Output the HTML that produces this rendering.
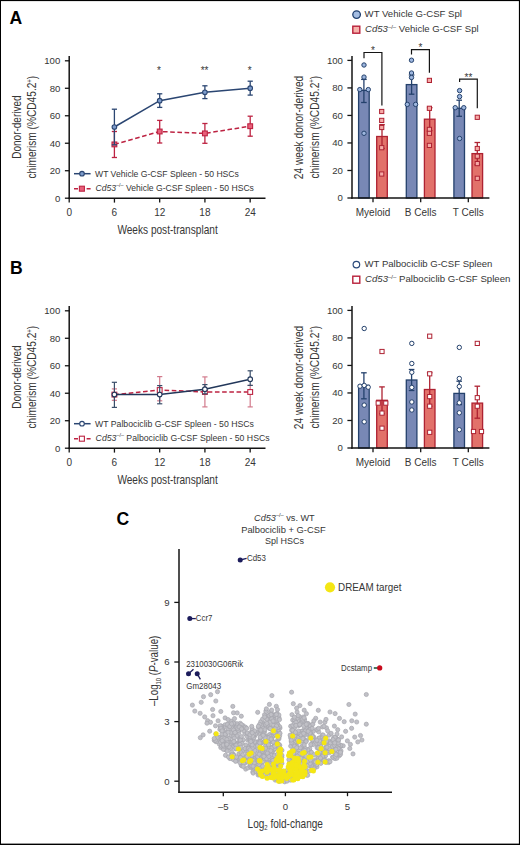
<!DOCTYPE html>
<html><head><meta charset="utf-8"><style>
html,body{margin:0;padding:0;background:#fff;width:520px;height:845px;overflow:hidden;}
svg{display:block;}
text{font-family:"Liberation Sans", sans-serif;}
</style></head><body>
<svg width="520" height="845" viewBox="0 0 520 845">
<rect x="0" y="0" width="520" height="845" fill="#fff"/>
<text x="9.6" y="24.3" font-size="17.6" fill="#000" font-weight="bold">A</text>
<text x="9.9" y="274.3" font-size="17.6" fill="#000" font-weight="bold">B</text>
<text x="116.6" y="524.7" font-size="17.6" fill="#000" font-weight="bold">C</text>
<line x1="69.2" y1="56.0" x2="69.2" y2="198.89999999999998" stroke="#141414" stroke-width="1.5"/>
<line x1="68.5" y1="198.2" x2="265.5" y2="198.2" stroke="#141414" stroke-width="1.5"/>
<line x1="64.9" y1="198.2" x2="69.2" y2="198.2" stroke="#141414" stroke-width="1.3"/>
<text x="60.3" y="201.6" font-size="9.6" fill="#363636" text-anchor="end">0</text>
<line x1="64.9" y1="170.71999999999997" x2="69.2" y2="170.71999999999997" stroke="#141414" stroke-width="1.3"/>
<text x="60.3" y="174.1" font-size="9.6" fill="#363636" text-anchor="end">20</text>
<line x1="64.9" y1="143.23999999999998" x2="69.2" y2="143.23999999999998" stroke="#141414" stroke-width="1.3"/>
<text x="60.3" y="146.6" font-size="9.6" fill="#363636" text-anchor="end">40</text>
<line x1="64.9" y1="115.75999999999998" x2="69.2" y2="115.75999999999998" stroke="#141414" stroke-width="1.3"/>
<text x="60.3" y="119.2" font-size="9.6" fill="#363636" text-anchor="end">60</text>
<line x1="64.9" y1="88.27999999999997" x2="69.2" y2="88.27999999999997" stroke="#141414" stroke-width="1.3"/>
<text x="60.3" y="91.7" font-size="9.6" fill="#363636" text-anchor="end">80</text>
<line x1="64.9" y1="60.79999999999998" x2="69.2" y2="60.79999999999998" stroke="#141414" stroke-width="1.3"/>
<text x="60.3" y="64.2" font-size="9.6" fill="#363636" text-anchor="end">100</text>
<line x1="69.2" y1="198.2" x2="69.2" y2="202.6" stroke="#141414" stroke-width="1.3"/>
<text x="69.2" y="215.6" font-size="10.0" fill="#363636" text-anchor="middle">0</text>
<line x1="114.44" y1="198.2" x2="114.44" y2="202.6" stroke="#141414" stroke-width="1.3"/>
<text x="114.4" y="215.6" font-size="10.0" fill="#363636" text-anchor="middle">6</text>
<line x1="159.68" y1="198.2" x2="159.68" y2="202.6" stroke="#141414" stroke-width="1.3"/>
<text x="159.7" y="215.6" font-size="10.0" fill="#363636" text-anchor="middle">12</text>
<line x1="204.92000000000002" y1="198.2" x2="204.92000000000002" y2="202.6" stroke="#141414" stroke-width="1.3"/>
<text x="204.9" y="215.6" font-size="10.0" fill="#363636" text-anchor="middle">18</text>
<line x1="250.16000000000003" y1="198.2" x2="250.16000000000003" y2="202.6" stroke="#141414" stroke-width="1.3"/>
<text x="250.2" y="215.6" font-size="10.0" fill="#363636" text-anchor="middle">24</text>
<text x="117.4" y="233.7" font-size="12.6" fill="#363636" textLength="100.3" lengthAdjust="spacingAndGlyphs">Weeks post-transplant</text>
<g transform="translate(21.0,127.1) rotate(-90)"><text x="0" y="0" font-size="12.6" fill="#363636" text-anchor="middle" textLength="63.4" lengthAdjust="spacingAndGlyphs">Donor-derived</text></g>
<g transform="translate(36.4,127.1) rotate(-90)"><text x="0" y="0" font-size="12.6" fill="#363636" text-anchor="middle" textLength="102.7" lengthAdjust="spacingAndGlyphs">chimerism (%CD45.2<tspan font-size="7.5" dy="-4.5">+</tspan><tspan dy="4.5">)</tspan></text></g>
<line x1="114.4" y1="131.5" x2="114.4" y2="157.5" stroke="#bd2342" stroke-width="1.3"/>
<line x1="111.8" y1="131.5" x2="117.0" y2="131.5" stroke="#bd2342" stroke-width="1.3"/>
<line x1="111.8" y1="157.5" x2="117.0" y2="157.5" stroke="#bd2342" stroke-width="1.3"/>
<line x1="159.7" y1="120.4" x2="159.7" y2="143.0" stroke="#bd2342" stroke-width="1.3"/>
<line x1="157.1" y1="120.4" x2="162.3" y2="120.4" stroke="#bd2342" stroke-width="1.3"/>
<line x1="157.1" y1="143.0" x2="162.3" y2="143.0" stroke="#bd2342" stroke-width="1.3"/>
<line x1="204.9" y1="123.5" x2="204.9" y2="143.3" stroke="#bd2342" stroke-width="1.3"/>
<line x1="202.3" y1="123.5" x2="207.5" y2="123.5" stroke="#bd2342" stroke-width="1.3"/>
<line x1="202.3" y1="143.3" x2="207.5" y2="143.3" stroke="#bd2342" stroke-width="1.3"/>
<line x1="250.2" y1="116.2" x2="250.2" y2="136.2" stroke="#bd2342" stroke-width="1.3"/>
<line x1="247.6" y1="116.2" x2="252.8" y2="116.2" stroke="#bd2342" stroke-width="1.3"/>
<line x1="247.6" y1="136.2" x2="252.8" y2="136.2" stroke="#bd2342" stroke-width="1.3"/>
<polyline points="114.4,144.4 159.7,131.5 204.9,133.4 250.2,126.2" fill="none" stroke="#bd2342" stroke-width="1.5" stroke-dasharray="4.6,2.6"/>
<rect x="112.0" y="142.0" width="4.8" height="4.8" fill="#e8607a" stroke="#bd2342" stroke-width="1.1"/>
<rect x="157.3" y="129.1" width="4.8" height="4.8" fill="#e8607a" stroke="#bd2342" stroke-width="1.1"/>
<rect x="202.5" y="131.0" width="4.8" height="4.8" fill="#e8607a" stroke="#bd2342" stroke-width="1.1"/>
<rect x="247.8" y="123.8" width="4.8" height="4.8" fill="#e8607a" stroke="#bd2342" stroke-width="1.1"/>
<line x1="114.4" y1="109.2" x2="114.4" y2="144.8" stroke="#2b4672" stroke-width="1.3"/>
<line x1="111.8" y1="109.2" x2="117.0" y2="109.2" stroke="#2b4672" stroke-width="1.3"/>
<line x1="111.8" y1="144.8" x2="117.0" y2="144.8" stroke="#2b4672" stroke-width="1.3"/>
<line x1="159.7" y1="93.8" x2="159.7" y2="107.4" stroke="#2b4672" stroke-width="1.3"/>
<line x1="157.1" y1="93.8" x2="162.3" y2="93.8" stroke="#2b4672" stroke-width="1.3"/>
<line x1="157.1" y1="107.4" x2="162.3" y2="107.4" stroke="#2b4672" stroke-width="1.3"/>
<line x1="204.9" y1="85.8" x2="204.9" y2="98.6" stroke="#2b4672" stroke-width="1.3"/>
<line x1="202.3" y1="85.8" x2="207.5" y2="85.8" stroke="#2b4672" stroke-width="1.3"/>
<line x1="202.3" y1="98.6" x2="207.5" y2="98.6" stroke="#2b4672" stroke-width="1.3"/>
<line x1="250.2" y1="81.2" x2="250.2" y2="95.1" stroke="#2b4672" stroke-width="1.3"/>
<line x1="247.6" y1="81.2" x2="252.8" y2="81.2" stroke="#2b4672" stroke-width="1.3"/>
<line x1="247.6" y1="95.1" x2="252.8" y2="95.1" stroke="#2b4672" stroke-width="1.3"/>
<polyline points="114.4,127.0 159.7,100.7 204.9,92.3 250.2,88.2" fill="none" stroke="#2b4672" stroke-width="1.5"/>
<circle cx="114.4" cy="127.0" r="2.3" fill="#7d9ccc" stroke="#2b4672" stroke-width="1.1"/>
<circle cx="159.7" cy="100.7" r="2.3" fill="#7d9ccc" stroke="#2b4672" stroke-width="1.1"/>
<circle cx="204.9" cy="92.3" r="2.3" fill="#7d9ccc" stroke="#2b4672" stroke-width="1.1"/>
<circle cx="250.2" cy="88.2" r="2.3" fill="#7d9ccc" stroke="#2b4672" stroke-width="1.1"/>
<line x1="74" y1="173.7" x2="90.6" y2="173.7" stroke="#2b4672" stroke-width="1.5"/>
<circle cx="82" cy="173.7" r="2.3" fill="#7d9ccc" stroke="#2b4672" stroke-width="1.1"/>
<line x1="74" y1="188.7" x2="90.6" y2="188.7" stroke="#bd2342" stroke-width="1.5" stroke-dasharray="4,2.3"/>
<rect x="79.4" y="186.2" width="5" height="5" fill="#e8607a" stroke="#bd2342" stroke-width="1.1"/>
<text x="95.0" y="176.6" font-size="9.5" fill="#363636" textLength="143.9" lengthAdjust="spacingAndGlyphs">WT Vehicle G-CSF Spleen - 50 HSCs</text>
<text x="95.6" y="190.6" font-size="9.5" fill="#363636" textLength="158.3" lengthAdjust="spacingAndGlyphs"><tspan font-style="italic">Cd53</tspan><tspan font-size="5.89" dy="-3.61">&#8211;/&#8211;</tspan><tspan dy="3.61"> Vehicle G-CSF Spleen - 50 HSCs</tspan></text>
<text x="158.9" y="74.4" font-size="10" fill="#363636" text-anchor="middle">*</text>
<text x="204.6" y="74.4" font-size="10" fill="#363636" text-anchor="middle">**</text>
<text x="249.6" y="74.4" font-size="10" fill="#363636" text-anchor="middle">*</text>
<line x1="69.2" y1="306.0" x2="69.2" y2="448.9" stroke="#141414" stroke-width="1.5"/>
<line x1="68.5" y1="448.2" x2="265.5" y2="448.2" stroke="#141414" stroke-width="1.5"/>
<line x1="64.9" y1="448.2" x2="69.2" y2="448.2" stroke="#141414" stroke-width="1.3"/>
<text x="60.3" y="451.6" font-size="9.6" fill="#363636" text-anchor="end">0</text>
<line x1="64.9" y1="420.71999999999997" x2="69.2" y2="420.71999999999997" stroke="#141414" stroke-width="1.3"/>
<text x="60.3" y="424.1" font-size="9.6" fill="#363636" text-anchor="end">20</text>
<line x1="64.9" y1="393.24" x2="69.2" y2="393.24" stroke="#141414" stroke-width="1.3"/>
<text x="60.3" y="396.6" font-size="9.6" fill="#363636" text-anchor="end">40</text>
<line x1="64.9" y1="365.76" x2="69.2" y2="365.76" stroke="#141414" stroke-width="1.3"/>
<text x="60.3" y="369.2" font-size="9.6" fill="#363636" text-anchor="end">60</text>
<line x1="64.9" y1="338.28" x2="69.2" y2="338.28" stroke="#141414" stroke-width="1.3"/>
<text x="60.3" y="341.7" font-size="9.6" fill="#363636" text-anchor="end">80</text>
<line x1="64.9" y1="310.79999999999995" x2="69.2" y2="310.79999999999995" stroke="#141414" stroke-width="1.3"/>
<text x="60.3" y="314.2" font-size="9.6" fill="#363636" text-anchor="end">100</text>
<line x1="69.2" y1="448.2" x2="69.2" y2="452.59999999999997" stroke="#141414" stroke-width="1.3"/>
<text x="69.2" y="465.6" font-size="10.0" fill="#363636" text-anchor="middle">0</text>
<line x1="114.44" y1="448.2" x2="114.44" y2="452.59999999999997" stroke="#141414" stroke-width="1.3"/>
<text x="114.4" y="465.6" font-size="10.0" fill="#363636" text-anchor="middle">6</text>
<line x1="159.68" y1="448.2" x2="159.68" y2="452.59999999999997" stroke="#141414" stroke-width="1.3"/>
<text x="159.7" y="465.6" font-size="10.0" fill="#363636" text-anchor="middle">12</text>
<line x1="204.92000000000002" y1="448.2" x2="204.92000000000002" y2="452.59999999999997" stroke="#141414" stroke-width="1.3"/>
<text x="204.9" y="465.6" font-size="10.0" fill="#363636" text-anchor="middle">18</text>
<line x1="250.16000000000003" y1="448.2" x2="250.16000000000003" y2="452.59999999999997" stroke="#141414" stroke-width="1.3"/>
<text x="250.2" y="465.6" font-size="10.0" fill="#363636" text-anchor="middle">24</text>
<text x="117.4" y="483.7" font-size="12.6" fill="#363636" textLength="100.3" lengthAdjust="spacingAndGlyphs">Weeks post-transplant</text>
<g transform="translate(21.0,377.1) rotate(-90)"><text x="0" y="0" font-size="12.6" fill="#363636" text-anchor="middle" textLength="63.4" lengthAdjust="spacingAndGlyphs">Donor-derived</text></g>
<g transform="translate(36.4,377.1) rotate(-90)"><text x="0" y="0" font-size="12.6" fill="#363636" text-anchor="middle" textLength="102.7" lengthAdjust="spacingAndGlyphs">chimerism (%CD45.2<tspan font-size="7.5" dy="-4.5">+</tspan><tspan dy="4.5">)</tspan></text></g>
<line x1="114.4" y1="388.9" x2="114.4" y2="400.3" stroke="#d27a8c" stroke-width="1.2"/>
<line x1="111.8" y1="388.9" x2="117.0" y2="388.9" stroke="#d27a8c" stroke-width="1.2"/>
<line x1="111.8" y1="400.3" x2="117.0" y2="400.3" stroke="#d27a8c" stroke-width="1.2"/>
<line x1="159.7" y1="376.6" x2="159.7" y2="400.8" stroke="#d27a8c" stroke-width="1.2"/>
<line x1="157.1" y1="376.6" x2="162.3" y2="376.6" stroke="#d27a8c" stroke-width="1.2"/>
<line x1="157.1" y1="400.8" x2="162.3" y2="400.8" stroke="#d27a8c" stroke-width="1.2"/>
<line x1="204.9" y1="376.9" x2="204.9" y2="406.9" stroke="#d27a8c" stroke-width="1.2"/>
<line x1="202.3" y1="376.9" x2="207.5" y2="376.9" stroke="#d27a8c" stroke-width="1.2"/>
<line x1="202.3" y1="406.9" x2="207.5" y2="406.9" stroke="#d27a8c" stroke-width="1.2"/>
<line x1="250.2" y1="385.4" x2="250.2" y2="406.9" stroke="#d27a8c" stroke-width="1.2"/>
<line x1="247.6" y1="385.4" x2="252.8" y2="385.4" stroke="#d27a8c" stroke-width="1.2"/>
<line x1="247.6" y1="406.9" x2="252.8" y2="406.9" stroke="#d27a8c" stroke-width="1.2"/>
<polyline points="114.4,394.6 159.7,390.0 204.9,392.0 250.2,392.0" fill="none" stroke="#bd2342" stroke-width="1.5" stroke-dasharray="4.6,2.6"/>
<rect x="112.0" y="392.2" width="4.8" height="4.8" fill="#ffffff" stroke="#bd2342" stroke-width="1.1"/>
<rect x="157.3" y="387.6" width="4.8" height="4.8" fill="#ffffff" stroke="#bd2342" stroke-width="1.1"/>
<rect x="202.5" y="389.6" width="4.8" height="4.8" fill="#ffffff" stroke="#bd2342" stroke-width="1.1"/>
<rect x="247.8" y="389.6" width="4.8" height="4.8" fill="#ffffff" stroke="#bd2342" stroke-width="1.1"/>
<line x1="114.4" y1="382.3" x2="114.4" y2="407.4" stroke="#3a4e6a" stroke-width="1.2"/>
<line x1="111.8" y1="382.3" x2="117.0" y2="382.3" stroke="#3a4e6a" stroke-width="1.2"/>
<line x1="111.8" y1="407.4" x2="117.0" y2="407.4" stroke="#3a4e6a" stroke-width="1.2"/>
<line x1="159.7" y1="385.6" x2="159.7" y2="403.8" stroke="#3a4e6a" stroke-width="1.2"/>
<line x1="157.1" y1="385.6" x2="162.3" y2="385.6" stroke="#3a4e6a" stroke-width="1.2"/>
<line x1="157.1" y1="403.8" x2="162.3" y2="403.8" stroke="#3a4e6a" stroke-width="1.2"/>
<line x1="204.9" y1="384.6" x2="204.9" y2="393.8" stroke="#3a4e6a" stroke-width="1.2"/>
<line x1="202.3" y1="384.6" x2="207.5" y2="384.6" stroke="#3a4e6a" stroke-width="1.2"/>
<line x1="202.3" y1="393.8" x2="207.5" y2="393.8" stroke="#3a4e6a" stroke-width="1.2"/>
<line x1="250.2" y1="370.8" x2="250.2" y2="385.4" stroke="#3a4e6a" stroke-width="1.2"/>
<line x1="247.6" y1="370.8" x2="252.8" y2="370.8" stroke="#3a4e6a" stroke-width="1.2"/>
<line x1="247.6" y1="385.4" x2="252.8" y2="385.4" stroke="#3a4e6a" stroke-width="1.2"/>
<polyline points="114.4,394.6 159.7,394.6 204.9,389.2 250.2,379.2" fill="none" stroke="#22375a" stroke-width="1.5"/>
<circle cx="114.4" cy="394.6" r="2.3" fill="#ffffff" stroke="#22375a" stroke-width="1.1"/>
<circle cx="159.7" cy="394.6" r="2.3" fill="#ffffff" stroke="#22375a" stroke-width="1.1"/>
<circle cx="204.9" cy="389.2" r="2.3" fill="#ffffff" stroke="#22375a" stroke-width="1.1"/>
<circle cx="250.2" cy="379.2" r="2.3" fill="#ffffff" stroke="#22375a" stroke-width="1.1"/>
<line x1="74" y1="423.7" x2="90.6" y2="423.7" stroke="#2b4672" stroke-width="1.5"/>
<circle cx="82" cy="423.7" r="2.3" fill="#ffffff" stroke="#2b4672" stroke-width="1.1"/>
<line x1="74" y1="438.7" x2="90.6" y2="438.7" stroke="#bd2342" stroke-width="1.5" stroke-dasharray="4,2.3"/>
<rect x="79.4" y="436.2" width="5" height="5" fill="#ffffff" stroke="#bd2342" stroke-width="1.1"/>
<text x="95.0" y="426.6" font-size="9.5" fill="#363636" textLength="158.9" lengthAdjust="spacingAndGlyphs">WT Palbociclib G-CSF Spleen - 50 HSCs</text>
<text x="95.6" y="440.6" font-size="9.5" fill="#363636" textLength="174.0" lengthAdjust="spacingAndGlyphs"><tspan font-style="italic">Cd53</tspan><tspan font-size="5.89" dy="-3.61">&#8211;/&#8211;</tspan><tspan dy="3.61"> Palbociclib G-CSF Spleen - 50 HSCs</tspan></text>
<circle cx="356.6" cy="14.6" r="3.8" fill="#a4bde2" stroke="#1f3f6e" stroke-width="1.3"/>
<rect x="352.8" y="26.2" width="7.0" height="7.0" fill="#f6b3ac" stroke="#b8203a" stroke-width="1.4"/>
<text x="364.6" y="17.4" font-size="9.6" fill="#363636" textLength="97.4" lengthAdjust="spacingAndGlyphs">WT Vehicle G-CSF Spl</text>
<text x="365.0" y="32.3" font-size="9.6" fill="#363636" textLength="113.6" lengthAdjust="spacingAndGlyphs"><tspan font-style="italic">Cd53</tspan><tspan font-size="5.95" dy="-3.65">&#8211;/&#8211;</tspan><tspan dy="3.65"> Vehicle G-CSF Spl</tspan></text>
<g transform="translate(303.3,127.5) rotate(-90)"><text x="0" y="0" font-size="12.6" fill="#363636" text-anchor="middle" textLength="103.4" lengthAdjust="spacingAndGlyphs">24 week donor-derived</text></g>
<g transform="translate(318.6,127.2) rotate(-90)"><text x="0" y="0" font-size="12.6" fill="#363636" text-anchor="middle" textLength="102.8" lengthAdjust="spacingAndGlyphs">chimerism (%CD45.2<tspan font-size="7.5" dy="-4.5">+</tspan><tspan dy="4.5">)</tspan></text></g>
<rect x="358.6" y="90.4" width="10.6" height="107.6" fill="#7888b5" stroke="#24416c" stroke-width="1.3"/>
<line x1="363.9" y1="79.4" x2="363.9" y2="102.5" stroke="#24416c" stroke-width="1.3"/>
<line x1="361.1" y1="79.4" x2="366.7" y2="79.4" stroke="#24416c" stroke-width="1.3"/>
<line x1="361.1" y1="102.5" x2="366.7" y2="102.5" stroke="#24416c" stroke-width="1.3"/>
<circle cx="364" cy="65" r="2.2" fill="#9db6de" stroke="#24416c" stroke-width="1.0"/>
<circle cx="364" cy="77.1" r="2.2" fill="#9db6de" stroke="#24416c" stroke-width="1.0"/>
<circle cx="359.8" cy="89.6" r="2.2" fill="#9db6de" stroke="#24416c" stroke-width="1.0"/>
<circle cx="368.3" cy="89.6" r="2.2" fill="#9db6de" stroke="#24416c" stroke-width="1.0"/>
<circle cx="364" cy="133.3" r="2.2" fill="#9db6de" stroke="#24416c" stroke-width="1.0"/>
<rect x="376.7" y="136.5" width="10.6" height="61.5" fill="#e2716a" stroke="#ae2232" stroke-width="1.3"/>
<line x1="382.0" y1="124.6" x2="382.0" y2="148.4" stroke="#ae2232" stroke-width="1.3"/>
<line x1="379.2" y1="124.6" x2="384.8" y2="124.6" stroke="#ae2232" stroke-width="1.3"/>
<line x1="379.2" y1="148.4" x2="384.8" y2="148.4" stroke="#ae2232" stroke-width="1.3"/>
<rect x="379.6" y="109.4" width="4.2" height="4.2" fill="#f6aaa6" stroke="#ae2232" stroke-width="1.0"/>
<rect x="379.6" y="118.3" width="4.2" height="4.2" fill="#f6aaa6" stroke="#ae2232" stroke-width="1.0"/>
<rect x="379.6" y="125.4" width="4.2" height="4.2" fill="#f6aaa6" stroke="#ae2232" stroke-width="1.0"/>
<rect x="379.6" y="145.6" width="4.2" height="4.2" fill="#f6aaa6" stroke="#ae2232" stroke-width="1.0"/>
<rect x="379.6" y="171.9" width="4.2" height="4.2" fill="#f6aaa6" stroke="#ae2232" stroke-width="1.0"/>
<line x1="373.0" y1="198.0" x2="373.0" y2="202.2" stroke="#141414" stroke-width="1.3"/>
<text x="373.0" y="215.9" font-size="10.0" fill="#363636" text-anchor="middle">Myeloid</text>
<rect x="406.3" y="84.6" width="10.6" height="113.4" fill="#7888b5" stroke="#24416c" stroke-width="1.3"/>
<line x1="411.6" y1="75.0" x2="411.6" y2="94.2" stroke="#24416c" stroke-width="1.3"/>
<line x1="408.8" y1="75.0" x2="414.4" y2="75.0" stroke="#24416c" stroke-width="1.3"/>
<line x1="408.8" y1="94.2" x2="414.4" y2="94.2" stroke="#24416c" stroke-width="1.3"/>
<circle cx="411.5" cy="60.2" r="2.2" fill="#9db6de" stroke="#24416c" stroke-width="1.0"/>
<circle cx="411.5" cy="73" r="2.2" fill="#9db6de" stroke="#24416c" stroke-width="1.0"/>
<circle cx="411.5" cy="77.5" r="2.2" fill="#9db6de" stroke="#24416c" stroke-width="1.0"/>
<circle cx="407.3" cy="104.4" r="2.2" fill="#9db6de" stroke="#24416c" stroke-width="1.0"/>
<circle cx="415.6" cy="104.4" r="2.2" fill="#9db6de" stroke="#24416c" stroke-width="1.0"/>
<rect x="424.4" y="119.2" width="10.6" height="78.8" fill="#e2716a" stroke="#ae2232" stroke-width="1.3"/>
<line x1="429.7" y1="107.7" x2="429.7" y2="130.7" stroke="#ae2232" stroke-width="1.3"/>
<line x1="426.9" y1="107.7" x2="432.5" y2="107.7" stroke="#ae2232" stroke-width="1.3"/>
<line x1="426.9" y1="130.7" x2="432.5" y2="130.7" stroke="#ae2232" stroke-width="1.3"/>
<rect x="427.3" y="78.3" width="4.2" height="4.2" fill="#f6aaa6" stroke="#ae2232" stroke-width="1.0"/>
<rect x="427.3" y="106.2" width="4.2" height="4.2" fill="#f6aaa6" stroke="#ae2232" stroke-width="1.0"/>
<rect x="427.3" y="127.3" width="4.2" height="4.2" fill="#f6aaa6" stroke="#ae2232" stroke-width="1.0"/>
<rect x="427.3" y="131.2" width="4.2" height="4.2" fill="#f6aaa6" stroke="#ae2232" stroke-width="1.0"/>
<rect x="427.3" y="143.3" width="4.2" height="4.2" fill="#f6aaa6" stroke="#ae2232" stroke-width="1.0"/>
<line x1="420.7" y1="198.0" x2="420.7" y2="202.2" stroke="#141414" stroke-width="1.3"/>
<text x="420.7" y="215.9" font-size="10.0" fill="#363636" text-anchor="middle">B Cells</text>
<rect x="453.9" y="108.3" width="10.6" height="89.7" fill="#7888b5" stroke="#24416c" stroke-width="1.3"/>
<line x1="459.2" y1="100.2" x2="459.2" y2="116.3" stroke="#24416c" stroke-width="1.3"/>
<line x1="456.4" y1="100.2" x2="462.0" y2="100.2" stroke="#24416c" stroke-width="1.3"/>
<line x1="456.4" y1="116.3" x2="462.0" y2="116.3" stroke="#24416c" stroke-width="1.3"/>
<circle cx="459.6" cy="90.6" r="2.2" fill="#9db6de" stroke="#24416c" stroke-width="1.0"/>
<circle cx="459.6" cy="96.6" r="2.2" fill="#9db6de" stroke="#24416c" stroke-width="1.0"/>
<circle cx="455.2" cy="107.7" r="2.2" fill="#9db6de" stroke="#24416c" stroke-width="1.0"/>
<circle cx="463.8" cy="107.7" r="2.2" fill="#9db6de" stroke="#24416c" stroke-width="1.0"/>
<circle cx="459.6" cy="138.5" r="2.2" fill="#9db6de" stroke="#24416c" stroke-width="1.0"/>
<rect x="472.0" y="153.6" width="10.6" height="44.4" fill="#e2716a" stroke="#ae2232" stroke-width="1.3"/>
<line x1="477.3" y1="142.5" x2="477.3" y2="164.7" stroke="#ae2232" stroke-width="1.3"/>
<line x1="474.5" y1="142.5" x2="480.1" y2="142.5" stroke="#ae2232" stroke-width="1.3"/>
<line x1="474.5" y1="164.7" x2="480.1" y2="164.7" stroke="#ae2232" stroke-width="1.3"/>
<rect x="475.2" y="115.2" width="4.2" height="4.2" fill="#f6aaa6" stroke="#ae2232" stroke-width="1.0"/>
<rect x="475.2" y="146.4" width="4.2" height="4.2" fill="#f6aaa6" stroke="#ae2232" stroke-width="1.0"/>
<rect x="475.2" y="154.1" width="4.2" height="4.2" fill="#f6aaa6" stroke="#ae2232" stroke-width="1.0"/>
<rect x="475.2" y="161.5" width="4.2" height="4.2" fill="#f6aaa6" stroke="#ae2232" stroke-width="1.0"/>
<rect x="475.2" y="176.2" width="4.2" height="4.2" fill="#f6aaa6" stroke="#ae2232" stroke-width="1.0"/>
<line x1="468.3" y1="198.0" x2="468.3" y2="202.2" stroke="#141414" stroke-width="1.3"/>
<text x="468.3" y="215.9" font-size="10.0" fill="#363636" text-anchor="middle">T Cells</text>
<line x1="352.0" y1="56.0" x2="352.0" y2="198.7" stroke="#141414" stroke-width="1.5"/>
<line x1="351.3" y1="198.0" x2="489.4" y2="198.0" stroke="#141414" stroke-width="1.5"/>
<line x1="347.4" y1="198.0" x2="352.0" y2="198.0" stroke="#141414" stroke-width="1.3"/>
<text x="342.9" y="201.4" font-size="9.6" fill="#363636" text-anchor="end">0</text>
<line x1="347.4" y1="170.48000000000002" x2="352.0" y2="170.48000000000002" stroke="#141414" stroke-width="1.3"/>
<text x="342.9" y="173.9" font-size="9.6" fill="#363636" text-anchor="end">20</text>
<line x1="347.4" y1="142.96" x2="352.0" y2="142.96" stroke="#141414" stroke-width="1.3"/>
<text x="342.9" y="146.4" font-size="9.6" fill="#363636" text-anchor="end">40</text>
<line x1="347.4" y1="115.44000000000001" x2="352.0" y2="115.44000000000001" stroke="#141414" stroke-width="1.3"/>
<text x="342.9" y="118.8" font-size="9.6" fill="#363636" text-anchor="end">60</text>
<line x1="347.4" y1="87.92000000000002" x2="352.0" y2="87.92000000000002" stroke="#141414" stroke-width="1.3"/>
<text x="342.9" y="91.3" font-size="9.6" fill="#363636" text-anchor="end">80</text>
<line x1="347.4" y1="60.400000000000006" x2="352.0" y2="60.400000000000006" stroke="#141414" stroke-width="1.3"/>
<text x="342.9" y="63.8" font-size="9.6" fill="#363636" text-anchor="end">100</text>
<polyline points="364.0,58.3 364.0,52.5 381.9,52.5 381.9,105.4" fill="none" stroke="#141414" stroke-width="1.2"/>
<text x="372.9" y="54.1" font-size="10" fill="#363636" text-anchor="middle">*</text>
<polyline points="411.5,54.4 411.5,49.6 429.4,49.6 429.4,72.7" fill="none" stroke="#141414" stroke-width="1.2"/>
<text x="420.4" y="51.2" font-size="10" fill="#363636" text-anchor="middle">*</text>
<polyline points="459.6,82.0 459.6,79.1 477.3,79.1 477.3,108.3" fill="none" stroke="#141414" stroke-width="1.2"/>
<text x="468.5" y="80.69999999999999" font-size="10" fill="#363636" text-anchor="middle">**</text>
<circle cx="356.4" cy="264.6" r="3.3" fill="#ffffff" stroke="#2b4a7a" stroke-width="1.2"/>
<rect x="352.8" y="276.2" width="7.0" height="7.0" fill="#ffffff" stroke="#b8203a" stroke-width="1.4"/>
<text x="364.6" y="267.4" font-size="9.6" fill="#363636" textLength="127.8" lengthAdjust="spacingAndGlyphs">WT Palbociclib G-CSF Spleen</text>
<text x="365.0" y="282.3" font-size="9.6" fill="#363636" textLength="145.4" lengthAdjust="spacingAndGlyphs"><tspan font-style="italic">Cd53</tspan><tspan font-size="5.95" dy="-3.65">&#8211;/&#8211;</tspan><tspan dy="3.65"> Palbociclib G-CSF Spleen</tspan></text>
<g transform="translate(303.3,377.5) rotate(-90)"><text x="0" y="0" font-size="12.6" fill="#363636" text-anchor="middle" textLength="103.4" lengthAdjust="spacingAndGlyphs">24 week donor-derived</text></g>
<g transform="translate(318.6,377.2) rotate(-90)"><text x="0" y="0" font-size="12.6" fill="#363636" text-anchor="middle" textLength="102.8" lengthAdjust="spacingAndGlyphs">chimerism (%CD45.2<tspan font-size="7.5" dy="-4.5">+</tspan><tspan dy="4.5">)</tspan></text></g>
<rect x="358.6" y="385.4" width="10.6" height="62.6" fill="#7888b5" stroke="#24416c" stroke-width="1.3"/>
<line x1="363.9" y1="372.8" x2="363.9" y2="398.8" stroke="#24416c" stroke-width="1.3"/>
<line x1="361.1" y1="372.8" x2="366.7" y2="372.8" stroke="#24416c" stroke-width="1.3"/>
<line x1="361.1" y1="398.8" x2="366.7" y2="398.8" stroke="#24416c" stroke-width="1.3"/>
<circle cx="364.2" cy="328.5" r="2.2" fill="#ffffff" stroke="#24416c" stroke-width="1.0"/>
<circle cx="360" cy="386.2" r="2.2" fill="#ffffff" stroke="#24416c" stroke-width="1.0"/>
<circle cx="364.2" cy="385.4" r="2.2" fill="#ffffff" stroke="#24416c" stroke-width="1.0"/>
<circle cx="368.2" cy="387.2" r="2.2" fill="#ffffff" stroke="#24416c" stroke-width="1.0"/>
<circle cx="364.2" cy="405.1" r="2.2" fill="#ffffff" stroke="#24416c" stroke-width="1.0"/>
<circle cx="364.2" cy="421.8" r="2.2" fill="#ffffff" stroke="#24416c" stroke-width="1.0"/>
<rect x="376.7" y="400.3" width="10.6" height="47.7" fill="#e2716a" stroke="#ae2232" stroke-width="1.3"/>
<line x1="382.0" y1="386.9" x2="382.0" y2="413.7" stroke="#ae2232" stroke-width="1.3"/>
<line x1="379.2" y1="386.9" x2="384.8" y2="386.9" stroke="#ae2232" stroke-width="1.3"/>
<line x1="379.2" y1="413.7" x2="384.8" y2="413.7" stroke="#ae2232" stroke-width="1.3"/>
<rect x="379.9" y="349.4" width="4.2" height="4.2" fill="#ffffff" stroke="#ae2232" stroke-width="1.0"/>
<rect x="376.1" y="401.0" width="4.2" height="4.2" fill="#ffffff" stroke="#ae2232" stroke-width="1.0"/>
<rect x="383.7" y="401.0" width="4.2" height="4.2" fill="#ffffff" stroke="#ae2232" stroke-width="1.0"/>
<rect x="379.9" y="411.0" width="4.2" height="4.2" fill="#ffffff" stroke="#ae2232" stroke-width="1.0"/>
<rect x="379.9" y="426.1" width="4.2" height="4.2" fill="#ffffff" stroke="#ae2232" stroke-width="1.0"/>
<line x1="373.0" y1="448.0" x2="373.0" y2="452.2" stroke="#141414" stroke-width="1.3"/>
<text x="373.0" y="465.9" font-size="10.0" fill="#363636" text-anchor="middle">Myeloid</text>
<rect x="406.3" y="380.0" width="10.6" height="68.0" fill="#7888b5" stroke="#24416c" stroke-width="1.3"/>
<line x1="411.6" y1="369.5" x2="411.6" y2="390.5" stroke="#24416c" stroke-width="1.3"/>
<line x1="408.8" y1="369.5" x2="414.4" y2="369.5" stroke="#24416c" stroke-width="1.3"/>
<line x1="408.8" y1="390.5" x2="414.4" y2="390.5" stroke="#24416c" stroke-width="1.3"/>
<circle cx="411.8" cy="343.4" r="2.2" fill="#ffffff" stroke="#24416c" stroke-width="1.0"/>
<circle cx="411.8" cy="363.5" r="2.2" fill="#ffffff" stroke="#24416c" stroke-width="1.0"/>
<circle cx="411.8" cy="372.3" r="2.2" fill="#ffffff" stroke="#24416c" stroke-width="1.0"/>
<circle cx="411.8" cy="387.4" r="2.2" fill="#ffffff" stroke="#24416c" stroke-width="1.0"/>
<circle cx="411.8" cy="402" r="2.2" fill="#ffffff" stroke="#24416c" stroke-width="1.0"/>
<circle cx="411.8" cy="410" r="2.2" fill="#ffffff" stroke="#24416c" stroke-width="1.0"/>
<rect x="424.4" y="389.5" width="10.6" height="58.5" fill="#e2716a" stroke="#ae2232" stroke-width="1.3"/>
<line x1="429.7" y1="372.8" x2="429.7" y2="406.2" stroke="#ae2232" stroke-width="1.3"/>
<line x1="426.9" y1="372.8" x2="432.5" y2="372.8" stroke="#ae2232" stroke-width="1.3"/>
<line x1="426.9" y1="406.2" x2="432.5" y2="406.2" stroke="#ae2232" stroke-width="1.3"/>
<rect x="427.6" y="334.1" width="4.2" height="4.2" fill="#ffffff" stroke="#ae2232" stroke-width="1.0"/>
<rect x="427.6" y="371.7" width="4.2" height="4.2" fill="#ffffff" stroke="#ae2232" stroke-width="1.0"/>
<rect x="427.6" y="394.5" width="4.2" height="4.2" fill="#ffffff" stroke="#ae2232" stroke-width="1.0"/>
<rect x="427.6" y="404.1" width="4.2" height="4.2" fill="#ffffff" stroke="#ae2232" stroke-width="1.0"/>
<rect x="427.6" y="430.2" width="4.2" height="4.2" fill="#ffffff" stroke="#ae2232" stroke-width="1.0"/>
<line x1="420.7" y1="448.0" x2="420.7" y2="452.2" stroke="#141414" stroke-width="1.3"/>
<text x="420.7" y="465.9" font-size="10.0" fill="#363636" text-anchor="middle">B Cells</text>
<rect x="453.9" y="393.4" width="10.6" height="54.6" fill="#7888b5" stroke="#24416c" stroke-width="1.3"/>
<line x1="459.2" y1="381.2" x2="459.2" y2="404.6" stroke="#24416c" stroke-width="1.3"/>
<line x1="456.4" y1="381.2" x2="462.0" y2="381.2" stroke="#24416c" stroke-width="1.3"/>
<line x1="456.4" y1="404.6" x2="462.0" y2="404.6" stroke="#24416c" stroke-width="1.3"/>
<circle cx="459.3" cy="347.4" r="2.2" fill="#ffffff" stroke="#24416c" stroke-width="1.0"/>
<circle cx="459.3" cy="378.5" r="2.2" fill="#ffffff" stroke="#24416c" stroke-width="1.0"/>
<circle cx="459.3" cy="386.5" r="2.2" fill="#ffffff" stroke="#24416c" stroke-width="1.0"/>
<circle cx="459.3" cy="402.8" r="2.2" fill="#ffffff" stroke="#24416c" stroke-width="1.0"/>
<circle cx="459.3" cy="412.8" r="2.2" fill="#ffffff" stroke="#24416c" stroke-width="1.0"/>
<circle cx="459.3" cy="429.7" r="2.2" fill="#ffffff" stroke="#24416c" stroke-width="1.0"/>
<rect x="472.0" y="403.1" width="10.6" height="44.9" fill="#e2716a" stroke="#ae2232" stroke-width="1.3"/>
<line x1="477.3" y1="386.2" x2="477.3" y2="418.2" stroke="#ae2232" stroke-width="1.3"/>
<line x1="474.5" y1="386.2" x2="480.1" y2="386.2" stroke="#ae2232" stroke-width="1.3"/>
<line x1="474.5" y1="418.2" x2="480.1" y2="418.2" stroke="#ae2232" stroke-width="1.3"/>
<rect x="475.2" y="341.3" width="4.2" height="4.2" fill="#ffffff" stroke="#ae2232" stroke-width="1.0"/>
<rect x="475.2" y="395.6" width="4.2" height="4.2" fill="#ffffff" stroke="#ae2232" stroke-width="1.0"/>
<rect x="475.2" y="404.1" width="4.2" height="4.2" fill="#ffffff" stroke="#ae2232" stroke-width="1.0"/>
<rect x="471.4" y="429.4" width="4.2" height="4.2" fill="#ffffff" stroke="#ae2232" stroke-width="1.0"/>
<rect x="479.4" y="429.4" width="4.2" height="4.2" fill="#ffffff" stroke="#ae2232" stroke-width="1.0"/>
<line x1="468.3" y1="448.0" x2="468.3" y2="452.2" stroke="#141414" stroke-width="1.3"/>
<text x="468.3" y="465.9" font-size="10.0" fill="#363636" text-anchor="middle">T Cells</text>
<line x1="352.0" y1="306.0" x2="352.0" y2="448.7" stroke="#141414" stroke-width="1.5"/>
<line x1="351.3" y1="448.0" x2="489.4" y2="448.0" stroke="#141414" stroke-width="1.5"/>
<line x1="347.4" y1="448.0" x2="352.0" y2="448.0" stroke="#141414" stroke-width="1.3"/>
<text x="342.9" y="451.4" font-size="9.6" fill="#363636" text-anchor="end">0</text>
<line x1="347.4" y1="420.48" x2="352.0" y2="420.48" stroke="#141414" stroke-width="1.3"/>
<text x="342.9" y="423.9" font-size="9.6" fill="#363636" text-anchor="end">20</text>
<line x1="347.4" y1="392.96000000000004" x2="352.0" y2="392.96000000000004" stroke="#141414" stroke-width="1.3"/>
<text x="342.9" y="396.4" font-size="9.6" fill="#363636" text-anchor="end">40</text>
<line x1="347.4" y1="365.44" x2="352.0" y2="365.44" stroke="#141414" stroke-width="1.3"/>
<text x="342.9" y="368.8" font-size="9.6" fill="#363636" text-anchor="end">60</text>
<line x1="347.4" y1="337.92" x2="352.0" y2="337.92" stroke="#141414" stroke-width="1.3"/>
<text x="342.9" y="341.3" font-size="9.6" fill="#363636" text-anchor="end">80</text>
<line x1="347.4" y1="310.4" x2="352.0" y2="310.4" stroke="#141414" stroke-width="1.3"/>
<text x="342.9" y="313.8" font-size="9.6" fill="#363636" text-anchor="end">100</text>
<g fill="#c0c0c6" stroke="#a6a6ae" stroke-width="0.7">
<circle cx="272.2" cy="749.2" r="2.1"/>
<circle cx="279.5" cy="751.4" r="2.1"/>
<circle cx="295.8" cy="767.6" r="2.1"/>
<circle cx="216.0" cy="741.7" r="2.1"/>
<circle cx="281.0" cy="755.6" r="2.1"/>
<circle cx="272.8" cy="727.0" r="2.1"/>
<circle cx="323.7" cy="760.9" r="2.1"/>
<circle cx="265.3" cy="771.9" r="2.1"/>
<circle cx="333.1" cy="742.1" r="2.1"/>
<circle cx="223.6" cy="731.3" r="2.1"/>
<circle cx="227.7" cy="724.5" r="2.1"/>
<circle cx="271.5" cy="720.1" r="2.1"/>
<circle cx="240.3" cy="726.3" r="2.1"/>
<circle cx="325.6" cy="755.7" r="2.1"/>
<circle cx="240.4" cy="725.4" r="2.1"/>
<circle cx="329.3" cy="752.7" r="2.1"/>
<circle cx="286.4" cy="772.3" r="2.1"/>
<circle cx="247.8" cy="740.2" r="2.1"/>
<circle cx="261.0" cy="750.2" r="2.1"/>
<circle cx="296.6" cy="743.1" r="2.1"/>
<circle cx="326.8" cy="750.3" r="2.1"/>
<circle cx="289.5" cy="753.1" r="2.1"/>
<circle cx="309.8" cy="750.9" r="2.1"/>
<circle cx="276.0" cy="723.2" r="2.1"/>
<circle cx="293.7" cy="777.7" r="2.1"/>
<circle cx="252.0" cy="758.6" r="2.1"/>
<circle cx="332.5" cy="757.1" r="2.1"/>
<circle cx="255.5" cy="757.6" r="2.1"/>
<circle cx="295.2" cy="744.0" r="2.1"/>
<circle cx="299.1" cy="768.8" r="2.1"/>
<circle cx="238.5" cy="742.5" r="2.1"/>
<circle cx="274.8" cy="761.4" r="2.1"/>
<circle cx="258.0" cy="760.1" r="2.1"/>
<circle cx="312.6" cy="736.1" r="2.1"/>
<circle cx="272.3" cy="754.4" r="2.1"/>
<circle cx="287.7" cy="774.5" r="2.1"/>
<circle cx="273.7" cy="756.5" r="2.1"/>
<circle cx="320.8" cy="755.7" r="2.1"/>
<circle cx="317.2" cy="730.3" r="2.1"/>
<circle cx="235.0" cy="731.5" r="2.1"/>
<circle cx="231.8" cy="745.8" r="2.1"/>
<circle cx="250.6" cy="762.6" r="2.1"/>
<circle cx="324.2" cy="749.2" r="2.1"/>
<circle cx="340.8" cy="746.4" r="2.1"/>
<circle cx="340.9" cy="745.8" r="2.1"/>
<circle cx="220.8" cy="747.6" r="2.1"/>
<circle cx="228.9" cy="739.3" r="2.1"/>
<circle cx="275.4" cy="730.1" r="2.1"/>
<circle cx="303.4" cy="730.4" r="2.1"/>
<circle cx="270.1" cy="734.7" r="2.1"/>
<circle cx="296.9" cy="746.8" r="2.1"/>
<circle cx="308.6" cy="725.5" r="2.1"/>
<circle cx="268.1" cy="767.4" r="2.1"/>
<circle cx="279.3" cy="764.9" r="2.1"/>
<circle cx="255.5" cy="741.9" r="2.1"/>
<circle cx="310.3" cy="737.0" r="2.1"/>
<circle cx="318.6" cy="760.7" r="2.1"/>
<circle cx="265.8" cy="752.4" r="2.1"/>
<circle cx="311.0" cy="766.5" r="2.1"/>
<circle cx="313.8" cy="737.1" r="2.1"/>
<circle cx="257.4" cy="742.0" r="2.1"/>
<circle cx="296.9" cy="754.3" r="2.1"/>
<circle cx="300.6" cy="731.7" r="2.1"/>
<circle cx="305.3" cy="765.2" r="2.1"/>
<circle cx="293.8" cy="763.4" r="2.1"/>
<circle cx="225.1" cy="724.8" r="2.1"/>
<circle cx="279.5" cy="781.4" r="2.1"/>
<circle cx="296.9" cy="769.0" r="2.1"/>
<circle cx="233.3" cy="742.3" r="2.1"/>
<circle cx="268.0" cy="746.6" r="2.1"/>
<circle cx="250.0" cy="756.8" r="2.1"/>
<circle cx="307.3" cy="728.4" r="2.1"/>
<circle cx="263.9" cy="775.9" r="2.1"/>
<circle cx="269.1" cy="742.7" r="2.1"/>
<circle cx="281.6" cy="779.0" r="2.1"/>
<circle cx="295.0" cy="741.0" r="2.1"/>
<circle cx="300.8" cy="741.0" r="2.1"/>
<circle cx="267.8" cy="766.5" r="2.1"/>
<circle cx="248.1" cy="759.1" r="2.1"/>
<circle cx="296.2" cy="764.5" r="2.1"/>
<circle cx="275.6" cy="721.6" r="2.1"/>
<circle cx="319.6" cy="754.3" r="2.1"/>
<circle cx="268.4" cy="725.4" r="2.1"/>
<circle cx="308.4" cy="759.8" r="2.1"/>
<circle cx="259.6" cy="762.4" r="2.1"/>
<circle cx="306.3" cy="750.0" r="2.1"/>
<circle cx="333.5" cy="739.6" r="2.1"/>
<circle cx="254.2" cy="736.6" r="2.1"/>
<circle cx="245.0" cy="733.6" r="2.1"/>
<circle cx="264.6" cy="735.6" r="2.1"/>
<circle cx="318.0" cy="747.7" r="2.1"/>
<circle cx="241.3" cy="765.5" r="2.1"/>
<circle cx="264.5" cy="731.7" r="2.1"/>
<circle cx="277.7" cy="747.4" r="2.1"/>
<circle cx="333.7" cy="737.4" r="2.1"/>
<circle cx="339.4" cy="755.6" r="2.1"/>
<circle cx="318.7" cy="738.3" r="2.1"/>
<circle cx="239.2" cy="738.6" r="2.1"/>
<circle cx="219.9" cy="729.4" r="2.1"/>
<circle cx="273.0" cy="751.1" r="2.1"/>
<circle cx="243.3" cy="761.7" r="2.1"/>
<circle cx="236.6" cy="727.2" r="2.1"/>
<circle cx="253.5" cy="748.3" r="2.1"/>
<circle cx="284.8" cy="780.6" r="2.1"/>
<circle cx="299.5" cy="723.8" r="2.1"/>
<circle cx="261.4" cy="767.9" r="2.1"/>
<circle cx="252.4" cy="767.4" r="2.1"/>
<circle cx="274.1" cy="761.5" r="2.1"/>
<circle cx="226.1" cy="736.1" r="2.1"/>
<circle cx="322.4" cy="756.7" r="2.1"/>
<circle cx="306.4" cy="723.8" r="2.1"/>
<circle cx="293.9" cy="727.9" r="2.1"/>
<circle cx="251.7" cy="731.7" r="2.1"/>
<circle cx="256.1" cy="770.3" r="2.1"/>
<circle cx="265.5" cy="771.1" r="2.1"/>
<circle cx="266.1" cy="710.7" r="2.1"/>
<circle cx="280.0" cy="756.1" r="2.1"/>
<circle cx="263.3" cy="731.2" r="2.1"/>
<circle cx="265.3" cy="760.3" r="2.1"/>
<circle cx="299.8" cy="753.1" r="2.1"/>
<circle cx="257.5" cy="756.4" r="2.1"/>
<circle cx="279.7" cy="767.3" r="2.1"/>
<circle cx="258.9" cy="744.5" r="2.1"/>
<circle cx="343.2" cy="745.8" r="2.1"/>
<circle cx="304.7" cy="731.0" r="2.1"/>
<circle cx="273.6" cy="714.8" r="2.1"/>
<circle cx="332.2" cy="747.9" r="2.1"/>
<circle cx="292.0" cy="714.7" r="2.1"/>
<circle cx="301.3" cy="763.3" r="2.1"/>
<circle cx="274.2" cy="716.3" r="2.1"/>
<circle cx="235.1" cy="746.1" r="2.1"/>
<circle cx="256.2" cy="755.7" r="2.1"/>
<circle cx="266.7" cy="754.3" r="2.1"/>
<circle cx="312.0" cy="743.4" r="2.1"/>
<circle cx="325.7" cy="737.3" r="2.1"/>
<circle cx="332.4" cy="746.6" r="2.1"/>
<circle cx="312.0" cy="729.1" r="2.1"/>
<circle cx="228.6" cy="740.3" r="2.1"/>
<circle cx="252.7" cy="736.2" r="2.1"/>
<circle cx="268.0" cy="768.6" r="2.1"/>
<circle cx="287.4" cy="776.4" r="2.1"/>
<circle cx="228.5" cy="747.5" r="2.1"/>
<circle cx="244.4" cy="728.6" r="2.1"/>
<circle cx="296.1" cy="720.1" r="2.1"/>
<circle cx="327.7" cy="761.3" r="2.1"/>
<circle cx="336.7" cy="740.2" r="2.1"/>
<circle cx="252.9" cy="761.1" r="2.1"/>
<circle cx="243.3" cy="757.5" r="2.1"/>
<circle cx="300.0" cy="774.9" r="2.1"/>
<circle cx="297.1" cy="712.1" r="2.1"/>
<circle cx="223.6" cy="727.5" r="2.1"/>
<circle cx="249.1" cy="748.3" r="2.1"/>
<circle cx="311.8" cy="735.4" r="2.1"/>
<circle cx="235.9" cy="748.9" r="2.1"/>
<circle cx="299.5" cy="766.9" r="2.1"/>
<circle cx="324.4" cy="759.1" r="2.1"/>
<circle cx="243.3" cy="739.8" r="2.1"/>
<circle cx="241.4" cy="750.8" r="2.1"/>
<circle cx="291.4" cy="761.5" r="2.1"/>
<circle cx="278.0" cy="739.3" r="2.1"/>
<circle cx="231.4" cy="729.6" r="2.1"/>
<circle cx="294.6" cy="746.5" r="2.1"/>
<circle cx="233.3" cy="759.6" r="2.1"/>
<circle cx="220.1" cy="737.4" r="2.1"/>
<circle cx="251.6" cy="738.5" r="2.1"/>
<circle cx="245.7" cy="748.6" r="2.1"/>
<circle cx="304.4" cy="773.3" r="2.1"/>
<circle cx="273.5" cy="736.0" r="2.1"/>
<circle cx="236.4" cy="748.4" r="2.1"/>
<circle cx="240.5" cy="741.9" r="2.1"/>
<circle cx="260.3" cy="726.7" r="2.1"/>
<circle cx="246.9" cy="736.0" r="2.1"/>
<circle cx="247.7" cy="733.5" r="2.1"/>
<circle cx="259.8" cy="765.5" r="2.1"/>
<circle cx="268.4" cy="748.0" r="2.1"/>
<circle cx="246.6" cy="762.3" r="2.1"/>
<circle cx="239.2" cy="727.1" r="2.1"/>
<circle cx="263.4" cy="773.4" r="2.1"/>
<circle cx="255.6" cy="744.3" r="2.1"/>
<circle cx="265.5" cy="742.5" r="2.1"/>
<circle cx="268.2" cy="716.9" r="2.1"/>
<circle cx="264.1" cy="733.8" r="2.1"/>
<circle cx="219.3" cy="744.1" r="2.1"/>
<circle cx="300.9" cy="719.7" r="2.1"/>
<circle cx="266.7" cy="737.8" r="2.1"/>
<circle cx="329.0" cy="735.2" r="2.1"/>
<circle cx="230.1" cy="745.1" r="2.1"/>
<circle cx="242.4" cy="758.7" r="2.1"/>
<circle cx="277.7" cy="756.4" r="2.1"/>
<circle cx="286.6" cy="770.7" r="2.1"/>
<circle cx="258.1" cy="775.0" r="2.1"/>
<circle cx="304.5" cy="759.2" r="2.1"/>
<circle cx="233.2" cy="754.1" r="2.1"/>
<circle cx="261.1" cy="727.6" r="2.1"/>
<circle cx="235.6" cy="745.6" r="2.1"/>
<circle cx="227.0" cy="740.7" r="2.1"/>
<circle cx="245.8" cy="745.1" r="2.1"/>
<circle cx="307.2" cy="724.9" r="2.1"/>
<circle cx="256.4" cy="765.0" r="2.1"/>
<circle cx="301.0" cy="723.3" r="2.1"/>
<circle cx="289.9" cy="779.3" r="2.1"/>
<circle cx="303.4" cy="738.1" r="2.1"/>
<circle cx="253.1" cy="768.2" r="2.1"/>
<circle cx="264.1" cy="753.8" r="2.1"/>
<circle cx="263.8" cy="759.8" r="2.1"/>
<circle cx="228.0" cy="730.6" r="2.1"/>
<circle cx="231.1" cy="754.4" r="2.1"/>
<circle cx="276.1" cy="733.9" r="2.1"/>
<circle cx="236.3" cy="743.2" r="2.1"/>
<circle cx="327.3" cy="743.3" r="2.1"/>
<circle cx="299.4" cy="754.2" r="2.1"/>
<circle cx="259.7" cy="764.5" r="2.1"/>
<circle cx="309.8" cy="736.5" r="2.1"/>
<circle cx="265.5" cy="760.7" r="2.1"/>
<circle cx="261.1" cy="756.9" r="2.1"/>
<circle cx="296.9" cy="733.0" r="2.1"/>
<circle cx="231.0" cy="732.7" r="2.1"/>
<circle cx="278.8" cy="736.9" r="2.1"/>
<circle cx="254.7" cy="764.6" r="2.1"/>
<circle cx="262.3" cy="755.9" r="2.1"/>
<circle cx="303.7" cy="740.8" r="2.1"/>
<circle cx="263.2" cy="723.2" r="2.1"/>
<circle cx="271.4" cy="751.9" r="2.1"/>
<circle cx="232.2" cy="742.0" r="2.1"/>
<circle cx="253.6" cy="763.2" r="2.1"/>
<circle cx="277.3" cy="723.5" r="2.1"/>
<circle cx="306.6" cy="724.8" r="2.1"/>
<circle cx="283.3" cy="773.4" r="2.1"/>
<circle cx="316.7" cy="743.8" r="2.1"/>
<circle cx="263.7" cy="772.1" r="2.1"/>
<circle cx="328.6" cy="762.5" r="2.1"/>
<circle cx="253.9" cy="754.7" r="2.1"/>
<circle cx="304.4" cy="719.3" r="2.1"/>
<circle cx="274.0" cy="715.2" r="2.1"/>
<circle cx="293.1" cy="733.2" r="2.1"/>
<circle cx="304.0" cy="763.2" r="2.1"/>
<circle cx="266.3" cy="716.6" r="2.1"/>
<circle cx="321.1" cy="737.3" r="2.1"/>
<circle cx="243.3" cy="750.8" r="2.1"/>
<circle cx="292.0" cy="740.4" r="2.1"/>
<circle cx="249.4" cy="739.8" r="2.1"/>
<circle cx="304.4" cy="758.1" r="2.1"/>
<circle cx="257.4" cy="769.8" r="2.1"/>
<circle cx="223.8" cy="733.7" r="2.1"/>
<circle cx="301.0" cy="732.2" r="2.1"/>
<circle cx="273.8" cy="730.0" r="2.1"/>
<circle cx="322.2" cy="756.3" r="2.1"/>
<circle cx="220.9" cy="741.5" r="2.1"/>
<circle cx="231.0" cy="736.2" r="2.1"/>
<circle cx="234.2" cy="756.3" r="2.1"/>
<circle cx="245.7" cy="769.1" r="2.1"/>
<circle cx="227.9" cy="742.0" r="2.1"/>
<circle cx="252.1" cy="745.1" r="2.1"/>
<circle cx="251.1" cy="766.4" r="2.1"/>
<circle cx="232.8" cy="747.0" r="2.1"/>
<circle cx="218.1" cy="737.9" r="2.1"/>
<circle cx="299.0" cy="775.0" r="2.1"/>
<circle cx="278.6" cy="776.4" r="2.1"/>
<circle cx="310.3" cy="725.4" r="2.1"/>
<circle cx="275.4" cy="733.3" r="2.1"/>
<circle cx="225.2" cy="734.4" r="2.1"/>
<circle cx="242.6" cy="764.2" r="2.1"/>
<circle cx="261.1" cy="728.8" r="2.1"/>
<circle cx="253.9" cy="744.3" r="2.1"/>
<circle cx="247.9" cy="767.9" r="2.1"/>
<circle cx="265.5" cy="727.6" r="2.1"/>
<circle cx="285.4" cy="778.3" r="2.1"/>
<circle cx="310.0" cy="738.0" r="2.1"/>
<circle cx="270.6" cy="764.4" r="2.1"/>
<circle cx="270.1" cy="714.3" r="2.1"/>
<circle cx="300.6" cy="748.3" r="2.1"/>
<circle cx="240.1" cy="737.8" r="2.1"/>
<circle cx="269.4" cy="734.8" r="2.1"/>
<circle cx="277.7" cy="759.5" r="2.1"/>
<circle cx="238.9" cy="732.4" r="2.1"/>
<circle cx="290.7" cy="746.1" r="2.1"/>
<circle cx="243.1" cy="725.6" r="2.1"/>
<circle cx="262.2" cy="761.6" r="2.1"/>
<circle cx="276.7" cy="723.3" r="2.1"/>
<circle cx="252.8" cy="771.9" r="2.1"/>
<circle cx="289.5" cy="776.1" r="2.1"/>
<circle cx="326.1" cy="762.4" r="2.1"/>
<circle cx="279.7" cy="774.0" r="2.1"/>
<circle cx="325.7" cy="753.1" r="2.1"/>
<circle cx="260.2" cy="767.2" r="2.1"/>
<circle cx="261.3" cy="762.6" r="2.1"/>
<circle cx="225.6" cy="749.7" r="2.1"/>
<circle cx="236.5" cy="746.6" r="2.1"/>
<circle cx="238.3" cy="760.7" r="2.1"/>
<circle cx="222.5" cy="743.5" r="2.1"/>
<circle cx="256.6" cy="760.5" r="2.1"/>
<circle cx="293.5" cy="753.4" r="2.1"/>
<circle cx="322.4" cy="759.4" r="2.1"/>
<circle cx="312.7" cy="768.8" r="2.1"/>
<circle cx="256.6" cy="732.4" r="2.1"/>
<circle cx="246.9" cy="751.3" r="2.1"/>
<circle cx="301.8" cy="740.9" r="2.1"/>
<circle cx="275.7" cy="766.9" r="2.1"/>
<circle cx="299.0" cy="725.6" r="2.1"/>
<circle cx="252.1" cy="731.0" r="2.1"/>
<circle cx="317.1" cy="747.7" r="2.1"/>
<circle cx="317.0" cy="766.8" r="2.1"/>
<circle cx="262.5" cy="727.7" r="2.1"/>
<circle cx="275.3" cy="769.6" r="2.1"/>
<circle cx="231.1" cy="721.2" r="2.1"/>
<circle cx="230.0" cy="758.6" r="2.1"/>
<circle cx="338.3" cy="740.8" r="2.1"/>
<circle cx="222.2" cy="729.4" r="2.1"/>
<circle cx="279.0" cy="717.7" r="2.1"/>
<circle cx="251.2" cy="767.6" r="2.1"/>
<circle cx="292.2" cy="771.8" r="2.1"/>
<circle cx="273.9" cy="719.4" r="2.1"/>
<circle cx="261.1" cy="742.4" r="2.1"/>
<circle cx="259.4" cy="774.8" r="2.1"/>
<circle cx="308.2" cy="723.6" r="2.1"/>
<circle cx="303.4" cy="732.4" r="2.1"/>
<circle cx="334.7" cy="745.6" r="2.1"/>
<circle cx="278.0" cy="726.3" r="2.1"/>
<circle cx="276.1" cy="755.7" r="2.1"/>
<circle cx="270.9" cy="711.7" r="2.1"/>
<circle cx="279.0" cy="738.7" r="2.1"/>
<circle cx="277.2" cy="743.1" r="2.1"/>
<circle cx="278.9" cy="732.1" r="2.1"/>
<circle cx="303.1" cy="768.0" r="2.1"/>
<circle cx="293.2" cy="777.0" r="2.1"/>
<circle cx="304.3" cy="764.9" r="2.1"/>
<circle cx="314.2" cy="767.0" r="2.1"/>
<circle cx="337.5" cy="755.5" r="2.1"/>
<circle cx="315.1" cy="759.9" r="2.1"/>
<circle cx="249.1" cy="746.3" r="2.1"/>
<circle cx="326.7" cy="747.3" r="2.1"/>
<circle cx="244.1" cy="730.9" r="2.1"/>
<circle cx="259.3" cy="746.6" r="2.1"/>
<circle cx="267.1" cy="737.1" r="2.1"/>
<circle cx="303.2" cy="765.2" r="2.1"/>
<circle cx="308.7" cy="730.2" r="2.1"/>
<circle cx="305.9" cy="741.1" r="2.1"/>
<circle cx="221.4" cy="726.3" r="2.1"/>
<circle cx="229.0" cy="738.6" r="2.1"/>
<circle cx="265.6" cy="756.3" r="2.1"/>
<circle cx="264.0" cy="742.0" r="2.1"/>
<circle cx="325.3" cy="743.4" r="2.1"/>
<circle cx="265.0" cy="775.1" r="2.1"/>
<circle cx="306.2" cy="740.4" r="2.1"/>
<circle cx="272.3" cy="729.9" r="2.1"/>
<circle cx="252.4" cy="766.0" r="2.1"/>
<circle cx="329.0" cy="740.9" r="2.1"/>
<circle cx="310.5" cy="728.4" r="2.1"/>
<circle cx="299.2" cy="757.8" r="2.1"/>
<circle cx="242.1" cy="765.9" r="2.1"/>
<circle cx="257.4" cy="761.2" r="2.1"/>
<circle cx="241.4" cy="736.5" r="2.1"/>
<circle cx="306.7" cy="765.2" r="2.1"/>
<circle cx="245.5" cy="760.7" r="2.1"/>
<circle cx="255.2" cy="762.4" r="2.1"/>
<circle cx="295.2" cy="775.6" r="2.1"/>
<circle cx="319.2" cy="738.2" r="2.1"/>
<circle cx="273.2" cy="746.9" r="2.1"/>
<circle cx="222.0" cy="728.7" r="2.1"/>
<circle cx="322.2" cy="735.0" r="2.1"/>
<circle cx="299.4" cy="716.7" r="2.1"/>
<circle cx="310.3" cy="725.9" r="2.1"/>
<circle cx="305.6" cy="760.2" r="2.1"/>
<circle cx="241.0" cy="742.4" r="2.1"/>
<circle cx="320.0" cy="750.0" r="2.1"/>
<circle cx="269.3" cy="770.4" r="2.1"/>
<circle cx="234.8" cy="733.1" r="2.1"/>
<circle cx="242.4" cy="761.8" r="2.1"/>
<circle cx="235.5" cy="726.5" r="2.1"/>
<circle cx="254.9" cy="741.9" r="2.1"/>
<circle cx="259.3" cy="733.4" r="2.1"/>
<circle cx="290.7" cy="726.2" r="2.1"/>
<circle cx="274.4" cy="745.4" r="2.1"/>
<circle cx="312.3" cy="754.2" r="2.1"/>
<circle cx="278.6" cy="737.6" r="2.1"/>
<circle cx="274.3" cy="746.8" r="2.1"/>
<circle cx="294.5" cy="727.6" r="2.1"/>
<circle cx="323.2" cy="759.0" r="2.1"/>
<circle cx="272.5" cy="736.4" r="2.1"/>
<circle cx="253.2" cy="773.1" r="2.1"/>
<circle cx="263.8" cy="755.5" r="2.1"/>
<circle cx="336.9" cy="739.4" r="2.1"/>
<circle cx="301.7" cy="722.1" r="2.1"/>
<circle cx="256.8" cy="750.6" r="2.1"/>
<circle cx="241.3" cy="756.9" r="2.1"/>
<circle cx="313.3" cy="731.4" r="2.1"/>
<circle cx="225.5" cy="755.3" r="2.1"/>
<circle cx="308.3" cy="764.9" r="2.1"/>
<circle cx="293.8" cy="778.9" r="2.1"/>
<circle cx="262.9" cy="770.1" r="2.1"/>
<circle cx="236.6" cy="744.1" r="2.1"/>
<circle cx="236.8" cy="723.7" r="2.1"/>
<circle cx="263.0" cy="761.7" r="2.1"/>
<circle cx="277.4" cy="735.3" r="2.1"/>
<circle cx="231.7" cy="751.8" r="2.1"/>
<circle cx="278.5" cy="744.5" r="2.1"/>
<circle cx="274.2" cy="771.7" r="2.1"/>
<circle cx="313.2" cy="762.1" r="2.1"/>
<circle cx="297.2" cy="718.3" r="2.1"/>
<circle cx="279.6" cy="735.7" r="2.1"/>
<circle cx="293.8" cy="720.3" r="2.1"/>
<circle cx="330.1" cy="751.4" r="2.1"/>
<circle cx="306.2" cy="734.4" r="2.1"/>
<circle cx="311.8" cy="767.0" r="2.1"/>
<circle cx="236.7" cy="736.1" r="2.1"/>
<circle cx="260.2" cy="752.8" r="2.1"/>
<circle cx="288.8" cy="775.3" r="2.1"/>
<circle cx="292.7" cy="720.1" r="2.1"/>
<circle cx="304.3" cy="720.0" r="2.1"/>
<circle cx="307.2" cy="723.4" r="2.1"/>
<circle cx="264.9" cy="729.7" r="2.1"/>
<circle cx="303.2" cy="717.0" r="2.1"/>
<circle cx="239.0" cy="753.7" r="2.1"/>
<circle cx="267.1" cy="719.5" r="2.1"/>
<circle cx="216.8" cy="741.3" r="2.1"/>
<circle cx="284.9" cy="772.6" r="2.1"/>
<circle cx="301.3" cy="762.6" r="2.1"/>
<circle cx="289.4" cy="773.2" r="2.1"/>
<circle cx="250.2" cy="766.2" r="2.1"/>
<circle cx="279.8" cy="745.3" r="2.1"/>
<circle cx="292.7" cy="758.9" r="2.1"/>
<circle cx="250.6" cy="741.0" r="2.1"/>
<circle cx="275.8" cy="733.2" r="2.1"/>
<circle cx="292.1" cy="765.3" r="2.1"/>
<circle cx="260.9" cy="775.2" r="2.1"/>
<circle cx="329.8" cy="743.2" r="2.1"/>
<circle cx="240.4" cy="740.2" r="2.1"/>
<circle cx="298.7" cy="742.1" r="2.1"/>
<circle cx="274.6" cy="728.8" r="2.1"/>
<circle cx="338.2" cy="753.8" r="2.1"/>
<circle cx="230.6" cy="748.2" r="2.1"/>
<circle cx="245.1" cy="748.6" r="2.1"/>
<circle cx="310.9" cy="765.0" r="2.1"/>
<circle cx="304.6" cy="762.5" r="2.1"/>
<circle cx="278.0" cy="755.9" r="2.1"/>
<circle cx="305.5" cy="752.2" r="2.1"/>
<circle cx="292.9" cy="774.2" r="2.1"/>
<circle cx="298.2" cy="734.6" r="2.1"/>
<circle cx="298.1" cy="732.8" r="2.1"/>
<circle cx="318.4" cy="758.4" r="2.1"/>
<circle cx="297.5" cy="724.8" r="2.1"/>
<circle cx="258.9" cy="742.4" r="2.1"/>
<circle cx="268.5" cy="727.0" r="2.1"/>
<circle cx="297.0" cy="768.4" r="2.1"/>
<circle cx="291.6" cy="730.2" r="2.1"/>
<circle cx="327.5" cy="750.4" r="2.1"/>
<circle cx="224.0" cy="749.0" r="2.1"/>
<circle cx="266.6" cy="717.3" r="2.1"/>
<circle cx="274.9" cy="766.4" r="2.1"/>
<circle cx="303.6" cy="750.0" r="2.1"/>
<circle cx="273.9" cy="749.6" r="2.1"/>
<circle cx="256.1" cy="771.8" r="2.1"/>
<circle cx="221.2" cy="726.1" r="2.1"/>
<circle cx="300.7" cy="737.6" r="2.1"/>
<circle cx="273.5" cy="725.3" r="2.1"/>
<circle cx="323.1" cy="735.0" r="2.1"/>
<circle cx="233.9" cy="723.3" r="2.1"/>
<circle cx="275.0" cy="715.1" r="2.1"/>
<circle cx="298.2" cy="761.9" r="2.1"/>
<circle cx="272.8" cy="742.0" r="2.1"/>
<circle cx="303.1" cy="761.2" r="2.1"/>
<circle cx="254.1" cy="734.1" r="2.1"/>
<circle cx="290.5" cy="771.3" r="2.1"/>
<circle cx="242.7" cy="762.2" r="2.1"/>
<circle cx="237.1" cy="729.9" r="2.1"/>
<circle cx="252.3" cy="740.7" r="2.1"/>
<circle cx="334.4" cy="752.5" r="2.1"/>
<circle cx="228.1" cy="728.9" r="2.1"/>
<circle cx="302.5" cy="721.1" r="2.1"/>
<circle cx="250.9" cy="738.1" r="2.1"/>
<circle cx="309.3" cy="731.9" r="2.1"/>
<circle cx="218.8" cy="737.6" r="2.1"/>
<circle cx="301.7" cy="731.5" r="2.1"/>
<circle cx="259.9" cy="740.1" r="2.1"/>
<circle cx="257.7" cy="764.3" r="2.1"/>
<circle cx="273.4" cy="747.1" r="2.1"/>
<circle cx="294.0" cy="752.3" r="2.1"/>
<circle cx="275.2" cy="734.7" r="2.1"/>
<circle cx="277.0" cy="763.1" r="2.1"/>
<circle cx="306.3" cy="762.8" r="2.1"/>
<circle cx="248.4" cy="758.1" r="2.1"/>
<circle cx="266.6" cy="742.4" r="2.1"/>
<circle cx="297.6" cy="752.9" r="2.1"/>
<circle cx="239.9" cy="762.7" r="2.1"/>
<circle cx="311.3" cy="765.6" r="2.1"/>
<circle cx="281.8" cy="757.3" r="2.1"/>
<circle cx="309.3" cy="771.0" r="2.1"/>
<circle cx="300.5" cy="759.8" r="2.1"/>
<circle cx="273.5" cy="721.2" r="2.1"/>
<circle cx="264.9" cy="724.3" r="2.1"/>
<circle cx="267.3" cy="759.9" r="2.1"/>
<circle cx="293.6" cy="733.0" r="2.1"/>
<circle cx="333.2" cy="757.8" r="2.1"/>
<circle cx="293.4" cy="733.7" r="2.1"/>
<circle cx="264.5" cy="714.8" r="2.1"/>
<circle cx="318.7" cy="731.8" r="2.1"/>
<circle cx="258.5" cy="727.5" r="2.1"/>
<circle cx="305.2" cy="752.0" r="2.1"/>
<circle cx="340.8" cy="745.3" r="2.1"/>
<circle cx="292.7" cy="730.3" r="2.1"/>
<circle cx="320.9" cy="744.2" r="2.1"/>
<circle cx="335.1" cy="758.6" r="2.1"/>
<circle cx="305.3" cy="731.0" r="2.1"/>
<circle cx="267.0" cy="746.5" r="2.1"/>
<circle cx="293.4" cy="754.1" r="2.1"/>
<circle cx="293.0" cy="774.1" r="2.1"/>
<circle cx="242.9" cy="759.3" r="2.1"/>
<circle cx="293.9" cy="757.0" r="2.1"/>
<circle cx="219.5" cy="739.9" r="2.1"/>
<circle cx="249.4" cy="748.7" r="2.1"/>
<circle cx="292.6" cy="742.6" r="2.1"/>
<circle cx="297.6" cy="768.3" r="2.1"/>
<circle cx="277.0" cy="777.1" r="2.1"/>
<circle cx="250.5" cy="739.1" r="2.1"/>
<circle cx="338.7" cy="745.0" r="2.1"/>
<circle cx="220.7" cy="741.5" r="2.1"/>
<circle cx="320.8" cy="763.4" r="2.1"/>
<circle cx="268.5" cy="715.8" r="2.1"/>
<circle cx="327.3" cy="748.7" r="2.1"/>
<circle cx="323.7" cy="751.2" r="2.1"/>
<circle cx="250.5" cy="765.0" r="2.1"/>
<circle cx="302.2" cy="775.5" r="2.1"/>
<circle cx="292.3" cy="778.9" r="2.1"/>
<circle cx="255.1" cy="735.0" r="2.1"/>
<circle cx="297.4" cy="773.3" r="2.1"/>
<circle cx="215.7" cy="734.0" r="2.1"/>
<circle cx="270.5" cy="775.0" r="2.1"/>
<circle cx="222.6" cy="746.4" r="2.1"/>
<circle cx="291.8" cy="754.3" r="2.1"/>
<circle cx="251.3" cy="741.7" r="2.1"/>
<circle cx="309.5" cy="751.3" r="2.1"/>
<circle cx="269.5" cy="763.0" r="2.1"/>
<circle cx="294.6" cy="735.4" r="2.1"/>
<circle cx="290.6" cy="761.8" r="2.1"/>
<circle cx="270.0" cy="763.6" r="2.1"/>
<circle cx="280.0" cy="733.3" r="2.1"/>
<circle cx="235.6" cy="761.3" r="2.1"/>
<circle cx="296.8" cy="741.3" r="2.1"/>
<circle cx="270.7" cy="773.7" r="2.1"/>
<circle cx="274.7" cy="748.7" r="2.1"/>
<circle cx="284.8" cy="773.5" r="2.1"/>
<circle cx="276.8" cy="727.8" r="2.1"/>
<circle cx="270.2" cy="738.3" r="2.1"/>
<circle cx="294.5" cy="742.4" r="2.1"/>
<circle cx="245.9" cy="761.3" r="2.1"/>
<circle cx="270.3" cy="736.7" r="2.1"/>
<circle cx="277.9" cy="771.7" r="2.1"/>
<circle cx="290.6" cy="776.9" r="2.1"/>
<circle cx="261.5" cy="742.9" r="2.1"/>
<circle cx="276.2" cy="720.8" r="2.1"/>
<circle cx="248.4" cy="751.4" r="2.1"/>
<circle cx="236.9" cy="744.9" r="2.1"/>
<circle cx="303.6" cy="751.3" r="2.1"/>
<circle cx="314.0" cy="740.3" r="2.1"/>
<circle cx="305.5" cy="771.2" r="2.1"/>
<circle cx="279.5" cy="719.6" r="2.1"/>
<circle cx="337.5" cy="739.2" r="2.1"/>
<circle cx="272.2" cy="765.7" r="2.1"/>
<circle cx="228.5" cy="757.0" r="2.1"/>
<circle cx="254.2" cy="746.5" r="2.1"/>
<circle cx="265.6" cy="724.6" r="2.1"/>
<circle cx="302.9" cy="738.6" r="2.1"/>
<circle cx="226.0" cy="743.9" r="2.1"/>
<circle cx="338.1" cy="742.9" r="2.1"/>
<circle cx="309.6" cy="757.4" r="2.1"/>
<circle cx="318.5" cy="752.7" r="2.1"/>
<circle cx="291.3" cy="741.4" r="2.1"/>
<circle cx="297.9" cy="737.5" r="2.1"/>
<circle cx="303.8" cy="748.6" r="2.1"/>
<circle cx="299.9" cy="724.6" r="2.1"/>
<circle cx="292.8" cy="738.9" r="2.1"/>
<circle cx="304.7" cy="775.0" r="2.1"/>
<circle cx="271.6" cy="738.9" r="2.1"/>
<circle cx="314.1" cy="768.9" r="2.1"/>
<circle cx="271.7" cy="740.3" r="2.1"/>
<circle cx="322.3" cy="738.0" r="2.1"/>
<circle cx="275.3" cy="780.1" r="2.1"/>
<circle cx="336.9" cy="758.2" r="2.1"/>
<circle cx="235.7" cy="744.9" r="2.1"/>
<circle cx="277.9" cy="769.6" r="2.1"/>
<circle cx="230.8" cy="725.3" r="2.1"/>
<circle cx="290.0" cy="761.3" r="2.1"/>
<circle cx="308.1" cy="749.9" r="2.1"/>
<circle cx="250.9" cy="748.6" r="2.1"/>
<circle cx="274.2" cy="721.2" r="2.1"/>
<circle cx="325.7" cy="748.6" r="2.1"/>
<circle cx="274.0" cy="732.8" r="2.1"/>
<circle cx="281.9" cy="763.3" r="2.1"/>
<circle cx="292.9" cy="757.0" r="2.1"/>
<circle cx="258.3" cy="771.8" r="2.1"/>
<circle cx="302.8" cy="719.1" r="2.1"/>
<circle cx="263.3" cy="734.9" r="2.1"/>
<circle cx="233.4" cy="736.6" r="2.1"/>
<circle cx="259.1" cy="761.3" r="2.1"/>
<circle cx="329.0" cy="760.7" r="2.1"/>
<circle cx="335.7" cy="737.6" r="2.1"/>
<circle cx="260.5" cy="730.9" r="2.1"/>
<circle cx="276.5" cy="771.5" r="2.1"/>
<circle cx="300.6" cy="723.6" r="2.1"/>
<circle cx="255.8" cy="762.1" r="2.1"/>
<circle cx="235.6" cy="729.0" r="2.1"/>
<circle cx="277.2" cy="728.5" r="2.1"/>
<circle cx="263.8" cy="770.3" r="2.1"/>
<circle cx="309.5" cy="752.5" r="2.1"/>
<circle cx="297.4" cy="740.0" r="2.1"/>
<circle cx="275.7" cy="727.6" r="2.1"/>
<circle cx="250.6" cy="736.0" r="2.1"/>
<circle cx="337.2" cy="747.6" r="2.1"/>
<circle cx="270.0" cy="753.3" r="2.1"/>
<circle cx="257.7" cy="756.7" r="2.1"/>
<circle cx="268.9" cy="746.6" r="2.1"/>
<circle cx="248.1" cy="749.0" r="2.1"/>
<circle cx="279.4" cy="759.6" r="2.1"/>
<circle cx="335.6" cy="753.6" r="2.1"/>
<circle cx="266.8" cy="719.1" r="2.1"/>
<circle cx="322.5" cy="756.4" r="2.1"/>
<circle cx="236.2" cy="745.2" r="2.1"/>
<circle cx="335.3" cy="756.3" r="2.1"/>
<circle cx="310.5" cy="729.3" r="2.1"/>
<circle cx="311.5" cy="752.4" r="2.1"/>
<circle cx="222.0" cy="733.8" r="2.1"/>
<circle cx="217.1" cy="737.7" r="2.1"/>
<circle cx="324.1" cy="760.4" r="2.1"/>
<circle cx="309.6" cy="765.2" r="2.1"/>
<circle cx="313.0" cy="744.7" r="2.1"/>
<circle cx="271.3" cy="755.3" r="2.1"/>
<circle cx="292.0" cy="754.0" r="2.1"/>
<circle cx="308.3" cy="765.0" r="2.1"/>
<circle cx="270.3" cy="722.1" r="2.1"/>
<circle cx="309.7" cy="748.6" r="2.1"/>
<circle cx="316.7" cy="764.6" r="2.1"/>
<circle cx="220.4" cy="727.2" r="2.1"/>
<circle cx="292.6" cy="752.7" r="2.1"/>
<circle cx="260.8" cy="751.3" r="2.1"/>
<circle cx="292.8" cy="725.4" r="2.1"/>
<circle cx="291.1" cy="763.2" r="2.1"/>
<circle cx="247.4" cy="754.5" r="2.1"/>
<circle cx="319.3" cy="747.0" r="2.1"/>
<circle cx="262.6" cy="766.2" r="2.1"/>
<circle cx="222.7" cy="742.4" r="2.1"/>
<circle cx="296.4" cy="749.7" r="2.1"/>
<circle cx="222.9" cy="739.1" r="2.1"/>
<circle cx="304.5" cy="734.4" r="2.1"/>
<circle cx="222.1" cy="738.4" r="2.1"/>
<circle cx="294.6" cy="720.6" r="2.1"/>
<circle cx="279.6" cy="747.5" r="2.1"/>
<circle cx="253.4" cy="760.5" r="2.1"/>
<circle cx="271.7" cy="718.7" r="2.1"/>
<circle cx="221.7" cy="741.0" r="2.1"/>
<circle cx="235.7" cy="748.2" r="2.1"/>
<circle cx="241.1" cy="752.7" r="2.1"/>
<circle cx="304.4" cy="773.6" r="2.1"/>
<circle cx="240.3" cy="729.5" r="2.1"/>
<circle cx="295.3" cy="748.7" r="2.1"/>
<circle cx="340.5" cy="754.3" r="2.1"/>
<circle cx="260.0" cy="729.4" r="2.1"/>
<circle cx="214.3" cy="740.4" r="2.1"/>
<circle cx="259.0" cy="764.5" r="2.1"/>
<circle cx="310.5" cy="732.8" r="2.1"/>
<circle cx="319.6" cy="752.3" r="2.1"/>
<circle cx="304.1" cy="763.5" r="2.1"/>
<circle cx="291.1" cy="757.2" r="2.1"/>
<circle cx="278.6" cy="729.6" r="2.1"/>
<circle cx="264.7" cy="758.7" r="2.1"/>
<circle cx="293.6" cy="753.4" r="2.1"/>
<circle cx="300.8" cy="768.6" r="2.1"/>
<circle cx="240.2" cy="723.3" r="2.1"/>
<circle cx="242.1" cy="743.4" r="2.1"/>
<circle cx="290.1" cy="775.6" r="2.1"/>
<circle cx="312.2" cy="728.2" r="2.1"/>
<circle cx="315.0" cy="763.2" r="2.1"/>
<circle cx="273.2" cy="767.3" r="2.1"/>
<circle cx="253.8" cy="737.7" r="2.1"/>
<circle cx="260.5" cy="771.9" r="2.1"/>
<circle cx="223.4" cy="749.3" r="2.1"/>
<circle cx="228.8" cy="726.2" r="2.1"/>
<circle cx="314.7" cy="761.6" r="2.1"/>
<circle cx="229.1" cy="746.9" r="2.1"/>
<circle cx="271.9" cy="748.0" r="2.1"/>
<circle cx="256.6" cy="732.7" r="2.1"/>
<circle cx="260.8" cy="721.7" r="2.1"/>
<circle cx="323.2" cy="739.6" r="2.1"/>
<circle cx="223.2" cy="740.9" r="2.1"/>
<circle cx="279.6" cy="770.9" r="2.1"/>
<circle cx="241.3" cy="724.5" r="2.1"/>
<circle cx="309.9" cy="733.1" r="2.1"/>
<circle cx="296.5" cy="722.9" r="2.1"/>
<circle cx="276.7" cy="773.2" r="2.1"/>
<circle cx="251.6" cy="766.0" r="2.1"/>
<circle cx="282.0" cy="777.6" r="2.1"/>
<circle cx="220.2" cy="725.8" r="2.1"/>
<circle cx="224.6" cy="738.7" r="2.1"/>
<circle cx="262.1" cy="749.0" r="2.1"/>
<circle cx="307.8" cy="749.8" r="2.1"/>
<circle cx="270.3" cy="769.2" r="2.1"/>
<circle cx="306.1" cy="741.6" r="2.1"/>
<circle cx="250.9" cy="744.4" r="2.1"/>
<circle cx="277.1" cy="713.3" r="2.1"/>
<circle cx="293.4" cy="744.1" r="2.1"/>
<circle cx="269.5" cy="728.4" r="2.1"/>
<circle cx="259.2" cy="754.2" r="2.1"/>
<circle cx="283.7" cy="773.4" r="2.1"/>
<circle cx="294.6" cy="723.3" r="2.1"/>
<circle cx="295.1" cy="774.7" r="2.1"/>
<circle cx="242.7" cy="754.9" r="2.1"/>
<circle cx="225.3" cy="734.2" r="2.1"/>
<circle cx="291.7" cy="756.8" r="2.1"/>
<circle cx="294.9" cy="735.8" r="2.1"/>
<circle cx="242.2" cy="759.9" r="2.1"/>
<circle cx="228.1" cy="732.3" r="2.1"/>
<circle cx="254.2" cy="763.0" r="2.1"/>
<circle cx="268.2" cy="750.3" r="2.1"/>
<circle cx="215.4" cy="740.3" r="2.1"/>
<circle cx="276.2" cy="778.8" r="2.1"/>
<circle cx="305.3" cy="773.7" r="2.1"/>
<circle cx="269.4" cy="772.0" r="2.1"/>
<circle cx="317.9" cy="756.3" r="2.1"/>
<circle cx="250.1" cy="736.7" r="2.1"/>
<circle cx="320.8" cy="746.1" r="2.1"/>
<circle cx="306.0" cy="769.4" r="2.1"/>
<circle cx="299.5" cy="754.2" r="2.1"/>
<circle cx="305.2" cy="748.4" r="2.1"/>
<circle cx="266.8" cy="723.4" r="2.1"/>
<circle cx="290.6" cy="737.7" r="2.1"/>
<circle cx="277.7" cy="768.3" r="2.1"/>
<circle cx="262.2" cy="735.5" r="2.1"/>
<circle cx="243.9" cy="763.6" r="2.1"/>
<circle cx="268.3" cy="741.3" r="2.1"/>
<circle cx="265.5" cy="746.0" r="2.1"/>
<circle cx="278.8" cy="780.2" r="2.1"/>
<circle cx="303.1" cy="754.8" r="2.1"/>
<circle cx="269.0" cy="758.7" r="2.1"/>
<circle cx="261.2" cy="725.2" r="2.1"/>
<circle cx="278.9" cy="715.0" r="2.1"/>
<circle cx="265.2" cy="740.6" r="2.1"/>
<circle cx="302.4" cy="745.8" r="2.1"/>
<circle cx="266.5" cy="758.5" r="2.1"/>
<circle cx="277.9" cy="724.8" r="2.1"/>
<circle cx="262.5" cy="751.1" r="2.1"/>
<circle cx="284.7" cy="781.8" r="2.1"/>
<circle cx="254.9" cy="750.4" r="2.1"/>
<circle cx="337.0" cy="739.8" r="2.1"/>
<circle cx="280.0" cy="728.0" r="2.1"/>
<circle cx="322.8" cy="748.8" r="2.1"/>
<circle cx="302.1" cy="733.5" r="2.1"/>
<circle cx="304.3" cy="744.9" r="2.1"/>
<circle cx="330.4" cy="742.9" r="2.1"/>
<circle cx="249.2" cy="756.2" r="2.1"/>
<circle cx="245.5" cy="727.2" r="2.1"/>
<circle cx="297.3" cy="756.1" r="2.1"/>
<circle cx="268.9" cy="756.5" r="2.1"/>
<circle cx="315.4" cy="761.9" r="2.1"/>
<circle cx="274.5" cy="755.5" r="2.1"/>
<circle cx="272.2" cy="758.8" r="2.1"/>
<circle cx="250.5" cy="743.8" r="2.1"/>
<circle cx="232.4" cy="724.9" r="2.1"/>
<circle cx="270.8" cy="750.7" r="2.1"/>
<circle cx="260.2" cy="746.7" r="2.1"/>
<circle cx="275.1" cy="742.1" r="2.1"/>
<circle cx="267.5" cy="737.6" r="2.1"/>
<circle cx="252.2" cy="748.2" r="2.1"/>
<circle cx="269.3" cy="715.5" r="2.1"/>
<circle cx="300.6" cy="734.6" r="2.1"/>
<circle cx="304.6" cy="771.2" r="2.1"/>
<circle cx="313.1" cy="737.6" r="2.1"/>
<circle cx="243.3" cy="766.4" r="2.1"/>
<circle cx="252.2" cy="744.9" r="2.1"/>
<circle cx="269.7" cy="765.0" r="2.1"/>
<circle cx="268.5" cy="744.8" r="2.1"/>
<circle cx="246.7" cy="728.3" r="2.1"/>
<circle cx="290.1" cy="735.2" r="2.1"/>
<circle cx="310.1" cy="763.4" r="2.1"/>
<circle cx="233.7" cy="723.1" r="2.1"/>
<circle cx="317.1" cy="729.4" r="2.1"/>
<circle cx="303.7" cy="750.4" r="2.1"/>
<circle cx="298.2" cy="715.6" r="2.1"/>
<circle cx="329.2" cy="748.5" r="2.1"/>
<circle cx="287.4" cy="777.1" r="2.1"/>
<circle cx="273.9" cy="774.8" r="2.1"/>
<circle cx="252.1" cy="728.7" r="2.1"/>
<circle cx="221.5" cy="746.1" r="2.1"/>
<circle cx="260.3" cy="741.1" r="2.1"/>
<circle cx="250.8" cy="762.2" r="2.1"/>
<circle cx="303.6" cy="725.8" r="2.1"/>
<circle cx="279.6" cy="726.7" r="2.1"/>
<circle cx="287.4" cy="774.0" r="2.1"/>
<circle cx="335.0" cy="737.3" r="2.1"/>
<circle cx="280.9" cy="757.0" r="2.1"/>
<circle cx="309.3" cy="756.6" r="2.1"/>
<circle cx="330.0" cy="761.7" r="2.1"/>
<circle cx="247.1" cy="756.4" r="2.1"/>
<circle cx="227.4" cy="724.4" r="2.1"/>
<circle cx="298.5" cy="732.6" r="2.1"/>
<circle cx="271.3" cy="714.7" r="2.1"/>
<circle cx="274.3" cy="742.4" r="2.1"/>
<circle cx="324.4" cy="752.7" r="2.1"/>
<circle cx="265.4" cy="748.4" r="2.1"/>
<circle cx="269.3" cy="766.9" r="2.1"/>
<circle cx="214.2" cy="738.5" r="2.1"/>
<circle cx="259.6" cy="724.4" r="2.1"/>
<circle cx="257.6" cy="745.7" r="2.1"/>
<circle cx="332.8" cy="740.7" r="2.1"/>
<circle cx="258.5" cy="761.9" r="2.1"/>
<circle cx="307.9" cy="761.1" r="2.1"/>
<circle cx="310.5" cy="760.0" r="2.1"/>
<circle cx="276.4" cy="714.5" r="2.1"/>
<circle cx="233.9" cy="741.5" r="2.1"/>
<circle cx="304.9" cy="750.3" r="2.1"/>
<circle cx="268.0" cy="775.3" r="2.1"/>
<circle cx="304.6" cy="759.3" r="2.1"/>
<circle cx="220.6" cy="742.3" r="2.1"/>
<circle cx="255.8" cy="734.1" r="2.1"/>
<circle cx="253.1" cy="766.2" r="2.1"/>
<circle cx="250.8" cy="741.5" r="2.1"/>
<circle cx="296.6" cy="765.8" r="2.1"/>
<circle cx="308.1" cy="731.3" r="2.1"/>
<circle cx="318.5" cy="747.6" r="2.1"/>
<circle cx="338.5" cy="740.0" r="2.1"/>
<circle cx="280.7" cy="749.3" r="2.1"/>
<circle cx="254.7" cy="731.0" r="2.1"/>
<circle cx="260.7" cy="737.6" r="2.1"/>
<circle cx="338.5" cy="748.8" r="2.1"/>
<circle cx="260.3" cy="743.3" r="2.1"/>
<circle cx="336.1" cy="754.6" r="2.1"/>
<circle cx="222.2" cy="740.7" r="2.1"/>
<circle cx="235.6" cy="728.7" r="2.1"/>
<circle cx="306.5" cy="774.9" r="2.1"/>
<circle cx="235.4" cy="728.4" r="2.1"/>
<circle cx="259.8" cy="742.9" r="2.1"/>
<circle cx="335.5" cy="749.8" r="2.1"/>
<circle cx="278.8" cy="744.3" r="2.1"/>
<circle cx="302.8" cy="768.2" r="2.1"/>
<circle cx="324.1" cy="739.4" r="2.1"/>
<circle cx="229.8" cy="726.5" r="2.1"/>
<circle cx="262.7" cy="749.4" r="2.1"/>
<circle cx="239.6" cy="758.0" r="2.1"/>
<circle cx="227.2" cy="751.0" r="2.1"/>
<circle cx="294.4" cy="717.2" r="2.1"/>
<circle cx="310.5" cy="756.5" r="2.1"/>
<circle cx="248.7" cy="748.3" r="2.1"/>
<circle cx="232.4" cy="754.5" r="2.1"/>
<circle cx="326.0" cy="747.4" r="2.1"/>
<circle cx="296.0" cy="722.3" r="2.1"/>
<circle cx="281.9" cy="750.4" r="2.1"/>
<circle cx="240.0" cy="744.5" r="2.1"/>
<circle cx="240.0" cy="758.9" r="2.1"/>
<circle cx="318.4" cy="754.7" r="2.1"/>
<circle cx="273.8" cy="763.6" r="2.1"/>
<circle cx="295.9" cy="725.4" r="2.1"/>
<circle cx="297.8" cy="761.8" r="2.1"/>
<circle cx="326.5" cy="741.3" r="2.1"/>
<circle cx="281.9" cy="755.3" r="2.1"/>
<circle cx="234.3" cy="738.1" r="2.1"/>
<circle cx="277.0" cy="759.1" r="2.1"/>
<circle cx="274.7" cy="746.2" r="2.1"/>
<circle cx="287.1" cy="781.1" r="2.1"/>
<circle cx="223.8" cy="746.2" r="2.1"/>
<circle cx="226.9" cy="739.5" r="2.1"/>
<circle cx="221.3" cy="730.3" r="2.1"/>
<circle cx="270.3" cy="728.6" r="2.1"/>
<circle cx="233.5" cy="730.0" r="2.1"/>
<circle cx="251.7" cy="726.4" r="2.1"/>
<circle cx="323.1" cy="742.6" r="2.1"/>
<circle cx="240.5" cy="757.5" r="2.1"/>
<circle cx="300.9" cy="758.3" r="2.1"/>
<circle cx="253.7" cy="734.6" r="2.1"/>
<circle cx="258.4" cy="726.3" r="2.1"/>
<circle cx="233.8" cy="741.5" r="2.1"/>
<circle cx="313.9" cy="754.7" r="2.1"/>
<circle cx="233.9" cy="755.4" r="2.1"/>
<circle cx="290.5" cy="780.1" r="2.1"/>
<circle cx="306.0" cy="756.3" r="2.1"/>
<circle cx="261.0" cy="774.4" r="2.1"/>
<circle cx="260.2" cy="737.2" r="2.1"/>
<circle cx="236.5" cy="757.0" r="2.1"/>
<circle cx="262.6" cy="719.0" r="2.1"/>
<circle cx="273.1" cy="742.1" r="2.1"/>
<circle cx="236.8" cy="727.2" r="2.1"/>
<circle cx="333.1" cy="739.6" r="2.1"/>
<circle cx="272.6" cy="760.6" r="2.1"/>
<circle cx="220.9" cy="728.2" r="2.1"/>
<circle cx="340.2" cy="751.9" r="2.1"/>
<circle cx="277.8" cy="727.4" r="2.1"/>
<circle cx="334.7" cy="742.9" r="2.1"/>
<circle cx="247.3" cy="733.0" r="2.1"/>
<circle cx="227.4" cy="742.8" r="2.1"/>
<circle cx="271.0" cy="768.6" r="2.1"/>
<circle cx="269.1" cy="776.2" r="2.1"/>
<circle cx="260.9" cy="730.1" r="2.1"/>
<circle cx="294.6" cy="746.2" r="2.1"/>
<circle cx="275.6" cy="759.8" r="2.1"/>
<circle cx="240.9" cy="747.2" r="2.1"/>
<circle cx="303.6" cy="733.4" r="2.1"/>
<circle cx="327.0" cy="747.2" r="2.1"/>
<circle cx="231.6" cy="723.8" r="2.1"/>
<circle cx="319.1" cy="743.1" r="2.1"/>
<circle cx="273.1" cy="721.0" r="2.1"/>
<circle cx="238.2" cy="730.5" r="2.1"/>
<circle cx="252.6" cy="736.2" r="2.1"/>
<circle cx="263.9" cy="756.4" r="2.1"/>
<circle cx="298.3" cy="731.0" r="2.1"/>
<circle cx="268.6" cy="737.8" r="2.1"/>
<circle cx="319.6" cy="741.0" r="2.1"/>
<circle cx="304.1" cy="717.8" r="2.1"/>
<circle cx="300.3" cy="747.8" r="2.1"/>
<circle cx="307.6" cy="775.3" r="2.1"/>
<circle cx="291.5" cy="742.5" r="2.1"/>
<circle cx="256.9" cy="768.1" r="2.1"/>
<circle cx="280.5" cy="761.0" r="2.1"/>
<circle cx="306.3" cy="724.3" r="2.1"/>
<circle cx="223.2" cy="745.1" r="2.1"/>
<circle cx="312.5" cy="739.8" r="2.1"/>
<circle cx="276.5" cy="725.9" r="2.1"/>
<circle cx="341.0" cy="750.9" r="2.1"/>
<circle cx="299.7" cy="724.5" r="2.1"/>
<circle cx="275.1" cy="728.8" r="2.1"/>
<circle cx="271.1" cy="714.6" r="2.1"/>
<circle cx="237.8" cy="728.4" r="2.1"/>
<circle cx="277.3" cy="743.3" r="2.1"/>
<circle cx="250.0" cy="734.8" r="2.1"/>
<circle cx="267.3" cy="753.1" r="2.1"/>
<circle cx="335.9" cy="749.3" r="2.1"/>
<circle cx="310.8" cy="744.6" r="2.1"/>
<circle cx="274.7" cy="775.8" r="2.1"/>
<circle cx="271.1" cy="739.1" r="2.1"/>
<circle cx="272.9" cy="760.5" r="2.1"/>
<circle cx="240.4" cy="727.3" r="2.1"/>
<circle cx="320.5" cy="758.0" r="2.1"/>
<circle cx="301.5" cy="764.0" r="2.1"/>
<circle cx="235.0" cy="732.5" r="2.1"/>
<circle cx="265.1" cy="737.6" r="2.1"/>
<circle cx="295.5" cy="732.4" r="2.1"/>
<circle cx="293.3" cy="761.9" r="2.1"/>
<circle cx="292.4" cy="750.2" r="2.1"/>
<circle cx="277.4" cy="754.3" r="2.1"/>
<circle cx="282.8" cy="771.1" r="2.1"/>
<circle cx="251.7" cy="755.5" r="2.1"/>
<circle cx="291.2" cy="740.1" r="2.1"/>
<circle cx="226.6" cy="744.8" r="2.1"/>
<circle cx="263.2" cy="735.3" r="2.1"/>
<circle cx="226.9" cy="744.3" r="2.1"/>
<circle cx="288.9" cy="759.6" r="2.1"/>
<circle cx="264.7" cy="717.0" r="2.1"/>
<circle cx="296.7" cy="747.7" r="2.1"/>
<circle cx="312.6" cy="736.7" r="2.1"/>
<circle cx="296.5" cy="767.7" r="2.1"/>
<circle cx="239.2" cy="727.0" r="2.1"/>
<circle cx="266.1" cy="711.5" r="2.1"/>
<circle cx="250.1" cy="749.8" r="2.1"/>
<circle cx="316.9" cy="740.3" r="2.1"/>
<circle cx="192.4" cy="705.1" r="2.1"/>
<circle cx="194.8" cy="711.1" r="2.1"/>
<circle cx="201.2" cy="702.3" r="2.1"/>
<circle cx="203.5" cy="696.7" r="2.1"/>
<circle cx="210.7" cy="694.7" r="2.1"/>
<circle cx="217.5" cy="691.7" r="2.1"/>
<circle cx="215.8" cy="701.0" r="2.1"/>
<circle cx="212.6" cy="709.5" r="2.1"/>
<circle cx="200.1" cy="713.3" r="2.1"/>
<circle cx="204.7" cy="716.9" r="2.1"/>
<circle cx="207.6" cy="720.7" r="2.1"/>
<circle cx="213.0" cy="715.7" r="2.1"/>
<circle cx="220.8" cy="711.5" r="2.1"/>
<circle cx="225.1" cy="717.9" r="2.1"/>
<circle cx="232.8" cy="706.4" r="2.1"/>
<circle cx="233.5" cy="712.8" r="2.1"/>
<circle cx="237.2" cy="712.9" r="2.1"/>
<circle cx="241.3" cy="716.2" r="2.1"/>
<circle cx="257.7" cy="712.3" r="2.1"/>
<circle cx="234.5" cy="718.6" r="2.1"/>
<circle cx="210.5" cy="722.3" r="2.1"/>
<circle cx="207.0" cy="723.2" r="2.1"/>
<circle cx="215.5" cy="725.8" r="2.1"/>
<circle cx="209.7" cy="731.2" r="2.1"/>
<circle cx="222.1" cy="730.9" r="2.1"/>
<circle cx="200.3" cy="737.7" r="2.1"/>
<circle cx="241.6" cy="728.9" r="2.1"/>
<circle cx="252.2" cy="732.8" r="2.1"/>
<circle cx="203.1" cy="734.9" r="2.1"/>
<circle cx="218.1" cy="720.8" r="2.1"/>
<circle cx="228.1" cy="719.6" r="2.1"/>
<circle cx="271.9" cy="695.6" r="2.1"/>
<circle cx="269.4" cy="704.4" r="2.1"/>
<circle cx="276.3" cy="706.3" r="2.1"/>
<circle cx="271.7" cy="710.1" r="2.1"/>
<circle cx="291.6" cy="692.2" r="2.1"/>
<circle cx="293.3" cy="703.7" r="2.1"/>
<circle cx="299.9" cy="705.6" r="2.1"/>
<circle cx="304.2" cy="710.2" r="2.1"/>
<circle cx="296.6" cy="708.1" r="2.1"/>
<circle cx="306.4" cy="713.7" r="2.1"/>
<circle cx="266.4" cy="708.8" r="2.1"/>
<circle cx="277.5" cy="709.6" r="2.1"/>
<circle cx="366.3" cy="694.5" r="2.1"/>
<circle cx="348.9" cy="704.5" r="2.1"/>
<circle cx="355.2" cy="714.1" r="2.1"/>
<circle cx="351.8" cy="720.8" r="2.1"/>
<circle cx="366.3" cy="724.2" r="2.1"/>
<circle cx="330.0" cy="712.0" r="2.1"/>
<circle cx="335.1" cy="713.6" r="2.1"/>
<circle cx="339.5" cy="718.4" r="2.1"/>
<circle cx="324.9" cy="722.2" r="2.1"/>
<circle cx="334.4" cy="726.1" r="2.1"/>
<circle cx="344.2" cy="721.7" r="2.1"/>
<circle cx="356.7" cy="722.0" r="2.1"/>
<circle cx="360.5" cy="735.5" r="2.1"/>
<circle cx="354.7" cy="737.1" r="2.1"/>
<circle cx="357.8" cy="741.9" r="2.1"/>
<circle cx="349.8" cy="748.5" r="2.1"/>
<circle cx="361.9" cy="740.0" r="2.1"/>
<circle cx="351.6" cy="728.3" r="2.1"/>
<circle cx="345.6" cy="731.3" r="2.1"/>
<circle cx="337.7" cy="729.7" r="2.1"/>
<circle cx="326.5" cy="727.9" r="2.1"/>
<circle cx="322.5" cy="726.9" r="2.1"/>
<circle cx="312.8" cy="724.2" r="2.1"/>
<circle cx="315.7" cy="718.3" r="2.1"/>
<circle cx="353.0" cy="753.9" r="2.1"/>
<circle cx="340.5" cy="752.3" r="2.1"/>
<circle cx="318.3" cy="710.3" r="2.1"/>
<circle cx="310.1" cy="703.6" r="2.1"/>
<circle cx="320.2" cy="722.1" r="2.1"/>
<circle cx="324.0" cy="726.3" r="2.1"/>
<circle cx="327.7" cy="730.9" r="2.1"/>
<circle cx="331.1" cy="733.4" r="2.1"/>
<circle cx="318.5" cy="728.4" r="2.1"/>
<circle cx="313.8" cy="720.9" r="2.1"/>
<circle cx="337.0" cy="734.0" r="2.1"/>
<circle cx="341.6" cy="736.9" r="2.1"/>
<circle cx="347.4" cy="740.9" r="2.1"/>
<circle cx="350.4" cy="744.4" r="2.1"/>
<circle cx="326.0" cy="719.4" r="2.1"/>
</g>
<g fill="#f4e614">
<circle cx="291.1" cy="766.3" r="2.5"/>
<circle cx="280.7" cy="765.9" r="2.5"/>
<circle cx="273.1" cy="778.0" r="2.5"/>
<circle cx="281.5" cy="774.5" r="2.5"/>
<circle cx="274.2" cy="769.4" r="2.5"/>
<circle cx="304.9" cy="774.0" r="2.5"/>
<circle cx="269.8" cy="769.4" r="2.5"/>
<circle cx="281.5" cy="776.2" r="2.5"/>
<circle cx="289.5" cy="766.0" r="2.5"/>
<circle cx="291.7" cy="751.5" r="2.5"/>
<circle cx="296.2" cy="762.2" r="2.5"/>
<circle cx="273.6" cy="773.4" r="2.5"/>
<circle cx="276.5" cy="760.9" r="2.5"/>
<circle cx="291.0" cy="770.4" r="2.5"/>
<circle cx="294.9" cy="776.2" r="2.5"/>
<circle cx="297.5" cy="772.7" r="2.5"/>
<circle cx="277.6" cy="770.2" r="2.5"/>
<circle cx="288.5" cy="776.7" r="2.5"/>
<circle cx="289.4" cy="774.3" r="2.5"/>
<circle cx="298.3" cy="772.2" r="2.5"/>
<circle cx="281.5" cy="760.8" r="2.5"/>
<circle cx="267.3" cy="771.0" r="2.5"/>
<circle cx="288.2" cy="766.9" r="2.5"/>
<circle cx="286.7" cy="778.5" r="2.5"/>
<circle cx="294.8" cy="761.4" r="2.5"/>
<circle cx="300.5" cy="771.6" r="2.5"/>
<circle cx="266.1" cy="768.7" r="2.5"/>
<circle cx="268.2" cy="766.5" r="2.5"/>
<circle cx="288.8" cy="774.6" r="2.5"/>
<circle cx="273.3" cy="774.8" r="2.5"/>
<circle cx="279.2" cy="754.9" r="2.5"/>
<circle cx="302.8" cy="776.7" r="2.5"/>
<circle cx="279.6" cy="755.5" r="2.5"/>
<circle cx="283.9" cy="771.1" r="2.5"/>
<circle cx="279.8" cy="750.2" r="2.5"/>
<circle cx="311.6" cy="770.2" r="2.5"/>
<circle cx="291.1" cy="764.1" r="2.5"/>
<circle cx="290.6" cy="774.9" r="2.5"/>
<circle cx="296.1" cy="758.6" r="2.5"/>
<circle cx="281.7" cy="780.9" r="2.5"/>
<circle cx="280.5" cy="776.6" r="2.5"/>
<circle cx="303.2" cy="771.3" r="2.5"/>
<circle cx="292.6" cy="780.0" r="2.5"/>
<circle cx="297.5" cy="767.3" r="2.5"/>
<circle cx="294.6" cy="769.2" r="2.5"/>
<circle cx="281.4" cy="780.3" r="2.5"/>
<circle cx="280.4" cy="749.1" r="2.5"/>
<circle cx="277.6" cy="760.3" r="2.5"/>
<circle cx="293.1" cy="764.1" r="2.5"/>
<circle cx="305.0" cy="771.9" r="2.5"/>
<circle cx="289.6" cy="755.8" r="2.5"/>
<circle cx="279.7" cy="771.4" r="2.5"/>
<circle cx="267.1" cy="764.6" r="2.5"/>
<circle cx="290.8" cy="766.3" r="2.5"/>
<circle cx="294.4" cy="763.4" r="2.5"/>
<circle cx="297.0" cy="767.3" r="2.5"/>
<circle cx="313.4" cy="771.1" r="2.5"/>
<circle cx="268.2" cy="770.0" r="2.5"/>
<circle cx="262.4" cy="776.4" r="2.5"/>
<circle cx="288.9" cy="764.1" r="2.5"/>
<circle cx="295.8" cy="775.8" r="2.5"/>
<circle cx="278.7" cy="777.8" r="2.5"/>
<circle cx="296.1" cy="768.8" r="2.5"/>
<circle cx="270.6" cy="777.5" r="2.5"/>
<circle cx="300.3" cy="776.4" r="2.5"/>
<circle cx="273.0" cy="772.5" r="2.5"/>
<circle cx="288.8" cy="767.4" r="2.5"/>
<circle cx="279.9" cy="769.9" r="2.5"/>
<circle cx="289.7" cy="773.9" r="2.5"/>
<circle cx="301.5" cy="775.6" r="2.5"/>
<circle cx="294.8" cy="778.3" r="2.5"/>
<circle cx="304.1" cy="765.1" r="2.5"/>
<circle cx="290.7" cy="755.3" r="2.5"/>
<circle cx="301.6" cy="768.3" r="2.5"/>
<circle cx="297.1" cy="760.4" r="2.5"/>
<circle cx="277.7" cy="775.4" r="2.5"/>
<circle cx="276.3" cy="759.8" r="2.5"/>
<circle cx="301.1" cy="770.2" r="2.5"/>
<circle cx="299.4" cy="766.3" r="2.5"/>
<circle cx="274.2" cy="773.4" r="2.5"/>
<circle cx="304.7" cy="774.5" r="2.5"/>
<circle cx="280.4" cy="753.6" r="2.5"/>
<circle cx="279.8" cy="750.3" r="2.5"/>
<circle cx="274.0" cy="767.2" r="2.5"/>
<circle cx="293.0" cy="773.7" r="2.5"/>
<circle cx="284.6" cy="774.7" r="2.5"/>
<circle cx="296.2" cy="774.3" r="2.5"/>
<circle cx="297.1" cy="773.1" r="2.5"/>
<circle cx="280.3" cy="757.7" r="2.5"/>
<circle cx="259.8" cy="771.7" r="2.5"/>
<circle cx="283.0" cy="776.8" r="2.5"/>
<circle cx="292.1" cy="762.5" r="2.5"/>
<circle cx="285.9" cy="776.1" r="2.5"/>
<circle cx="294.1" cy="757.9" r="2.5"/>
<circle cx="293.8" cy="780.1" r="2.5"/>
<circle cx="295.6" cy="776.9" r="2.5"/>
<circle cx="277.7" cy="757.8" r="2.5"/>
<circle cx="298.8" cy="761.7" r="2.5"/>
<circle cx="275.2" cy="776.8" r="2.5"/>
<circle cx="278.6" cy="781.2" r="2.5"/>
<circle cx="267.1" cy="778.2" r="2.5"/>
<circle cx="292.9" cy="764.9" r="2.5"/>
<circle cx="266.9" cy="772.2" r="2.5"/>
<circle cx="261.0" cy="771.8" r="2.5"/>
<circle cx="292.1" cy="765.8" r="2.5"/>
<circle cx="281.6" cy="759.8" r="2.5"/>
<circle cx="273.5" cy="764.1" r="2.5"/>
<circle cx="292.2" cy="771.3" r="2.5"/>
<circle cx="312.9" cy="770.2" r="2.5"/>
<circle cx="277.8" cy="761.2" r="2.5"/>
<circle cx="275.6" cy="777.1" r="2.5"/>
<circle cx="296.1" cy="765.3" r="2.5"/>
<circle cx="290.4" cy="769.3" r="2.5"/>
<circle cx="280.5" cy="749.6" r="2.5"/>
<circle cx="305.0" cy="766.7" r="2.5"/>
<circle cx="291.2" cy="774.1" r="2.5"/>
<circle cx="290.0" cy="770.5" r="2.5"/>
<circle cx="289.4" cy="753.0" r="2.5"/>
<circle cx="297.8" cy="778.7" r="2.5"/>
<circle cx="260.6" cy="774.7" r="2.5"/>
<circle cx="216.2" cy="733.8" r="2.5"/>
<circle cx="238.4" cy="748.9" r="2.5"/>
<circle cx="232.2" cy="756.7" r="2.5"/>
<circle cx="242.4" cy="760.7" r="2.5"/>
<circle cx="249.1" cy="754.2" r="2.5"/>
<circle cx="250.7" cy="760.4" r="2.5"/>
<circle cx="260.0" cy="747.6" r="2.5"/>
<circle cx="260.0" cy="761.0" r="2.5"/>
<circle cx="257.5" cy="768.9" r="2.5"/>
<circle cx="262.3" cy="771.1" r="2.5"/>
<circle cx="273.5" cy="730.7" r="2.5"/>
<circle cx="277.6" cy="736.2" r="2.5"/>
<circle cx="265.9" cy="741.5" r="2.5"/>
<circle cx="277.3" cy="744.0" r="2.5"/>
<circle cx="262.1" cy="748.6" r="2.5"/>
<circle cx="278.7" cy="751.0" r="2.5"/>
<circle cx="251.1" cy="753.0" r="2.5"/>
<circle cx="243.6" cy="760.1" r="2.5"/>
<circle cx="249.5" cy="761.7" r="2.5"/>
<circle cx="259.4" cy="760.4" r="2.5"/>
<circle cx="292.6" cy="736.1" r="2.5"/>
<circle cx="298.9" cy="741.4" r="2.5"/>
<circle cx="310.8" cy="738.1" r="2.5"/>
<circle cx="293.2" cy="750.7" r="2.5"/>
<circle cx="302.5" cy="753.2" r="2.5"/>
<circle cx="317.4" cy="753.0" r="2.5"/>
<circle cx="288.6" cy="755.5" r="2.5"/>
<circle cx="298.1" cy="758.5" r="2.5"/>
<circle cx="308.9" cy="757.2" r="2.5"/>
<circle cx="325.7" cy="738.3" r="2.5"/>
<circle cx="324.1" cy="742.7" r="2.5"/>
<circle cx="321.1" cy="748.6" r="2.5"/>
<circle cx="325.1" cy="752.7" r="2.5"/>
<circle cx="331.9" cy="751.5" r="2.5"/>
<circle cx="304.2" cy="752.4" r="2.5"/>
<circle cx="311.0" cy="757.1" r="2.5"/>
<circle cx="317.9" cy="762.3" r="2.5"/>
<circle cx="325.1" cy="762.0" r="2.5"/>
<circle cx="304.6" cy="761.3" r="2.5"/>
</g>
<line x1="179.0" y1="549.0" x2="179.0" y2="793.0" stroke="#141414" stroke-width="1.5"/>
<line x1="178.3" y1="792.3" x2="392.0" y2="792.3" stroke="#141414" stroke-width="1.5"/>
<line x1="174.3" y1="781.2" x2="179" y2="781.2" stroke="#141414" stroke-width="1.3"/>
<text x="169.6" y="784.6" font-size="9.6" fill="#363636" text-anchor="end">0</text>
<line x1="174.3" y1="721.6" x2="179" y2="721.6" stroke="#141414" stroke-width="1.3"/>
<text x="169.6" y="725.0" font-size="9.6" fill="#363636" text-anchor="end">3</text>
<line x1="174.3" y1="662.0" x2="179" y2="662.0" stroke="#141414" stroke-width="1.3"/>
<text x="169.6" y="665.4" font-size="9.6" fill="#363636" text-anchor="end">6</text>
<line x1="174.3" y1="602.4" x2="179" y2="602.4" stroke="#141414" stroke-width="1.3"/>
<text x="169.6" y="605.8" font-size="9.6" fill="#363636" text-anchor="end">9</text>
<line x1="223.3" y1="792.3" x2="223.3" y2="796.2" stroke="#141414" stroke-width="1.3"/>
<text x="223.3" y="809.7" font-size="9.6" fill="#363636" text-anchor="middle">&#8211;5</text>
<line x1="285.4" y1="792.3" x2="285.4" y2="796.2" stroke="#141414" stroke-width="1.3"/>
<text x="285.4" y="809.7" font-size="9.6" fill="#363636" text-anchor="middle">0</text>
<line x1="347.5" y1="792.3" x2="347.5" y2="796.2" stroke="#141414" stroke-width="1.3"/>
<text x="347.5" y="809.7" font-size="9.6" fill="#363636" text-anchor="middle">5</text>
<text x="247.6" y="827.7" font-size="12.6" fill="#363636" textLength="75.3" lengthAdjust="spacingAndGlyphs">Log<tspan font-size="7.5" dy="2.5">2</tspan><tspan dy="-2.5"> fold-change</tspan></text>
<g transform="translate(158.2,670.9) rotate(-90)"><text x="0" y="0" font-size="12.6" fill="#363636" text-anchor="middle" textLength="70.4" lengthAdjust="spacingAndGlyphs">&#8211;Log<tspan font-size="7.5" dy="2.5">10</tspan><tspan dy="-2.5"> (</tspan><tspan font-style="italic">P</tspan>-value)</text></g>
<text x="284.4" y="521.0" font-size="9.6" fill="#363636" text-anchor="middle" textLength="60.6" lengthAdjust="spacingAndGlyphs"><tspan font-style="italic">Cd53</tspan><tspan font-size="5.95" dy="-3.65">&#8211;/&#8211;</tspan><tspan dy="3.65"> vs. WT</tspan></text>
<text x="283.4" y="532.5" font-size="9.6" fill="#363636" text-anchor="middle" textLength="84.4" lengthAdjust="spacingAndGlyphs">Palbociclib + G-CSF</text>
<text x="284.5" y="544.0" font-size="9.6" fill="#363636" text-anchor="middle" textLength="39.0" lengthAdjust="spacingAndGlyphs">Spl HSCs</text>
<circle cx="330" cy="587.3" r="5.1" fill="#f4e614"/>
<text x="338.1" y="591.2" font-size="10.3" fill="#363636" textLength="63.4" lengthAdjust="spacingAndGlyphs">DREAM target</text>
<circle cx="240.2" cy="560" r="2.5" fill="#1c1c5c"/>
<line x1="240.2" y1="560" x2="246.6" y2="558.4" stroke="#1c1c5c" stroke-width="1.3"/>
<text x="246.9" y="561.4" font-size="8.4" fill="#363636" textLength="19.0" lengthAdjust="spacingAndGlyphs">Cd53</text>
<circle cx="189.8" cy="618.6" r="2.5" fill="#1c1c5c"/>
<line x1="189.8" y1="618.6" x2="195.8" y2="618.6" stroke="#1c1c5c" stroke-width="1.3"/>
<text x="195.8" y="621.4" font-size="8.4" fill="#363636" textLength="16.6" lengthAdjust="spacingAndGlyphs">Ccr7</text>
<circle cx="188.5" cy="673.8" r="2.5" fill="#1c1c5c"/>
<line x1="188.5" y1="673.8" x2="193.5" y2="669.2" stroke="#1c1c5c" stroke-width="1.3"/>
<circle cx="197.2" cy="673.8" r="2.5" fill="#1c1c5c"/>
<line x1="197.2" y1="673.8" x2="200.4" y2="679.3" stroke="#1c1c5c" stroke-width="1.3"/>
<text x="186.2" y="667.3" font-size="8.4" fill="#363636" textLength="57.0" lengthAdjust="spacingAndGlyphs">2310030G06Rik</text>
<text x="186.2" y="688.6" font-size="8.4" fill="#363636" textLength="35.0" lengthAdjust="spacingAndGlyphs">Gm28043</text>
<line x1="373.8" y1="668.0" x2="379.6" y2="668.0" stroke="#1f5a3c" stroke-width="1.6"/>
<circle cx="379.7" cy="667.9" r="2.6" fill="#c80a1c"/>
<text x="341.1" y="670.5" font-size="8.4" fill="#363636" textLength="30.9" lengthAdjust="spacingAndGlyphs">Dcstamp</text>
<rect x="0" y="0" width="520" height="1.1" fill="#000"/>
<rect x="0" y="0" width="1.0" height="845" fill="#000"/>
<rect x="518.9" y="0" width="1.1" height="845" fill="#000"/>
<rect x="0" y="843.6" width="520" height="1.4" fill="#000"/>
</svg>
</body></html>
